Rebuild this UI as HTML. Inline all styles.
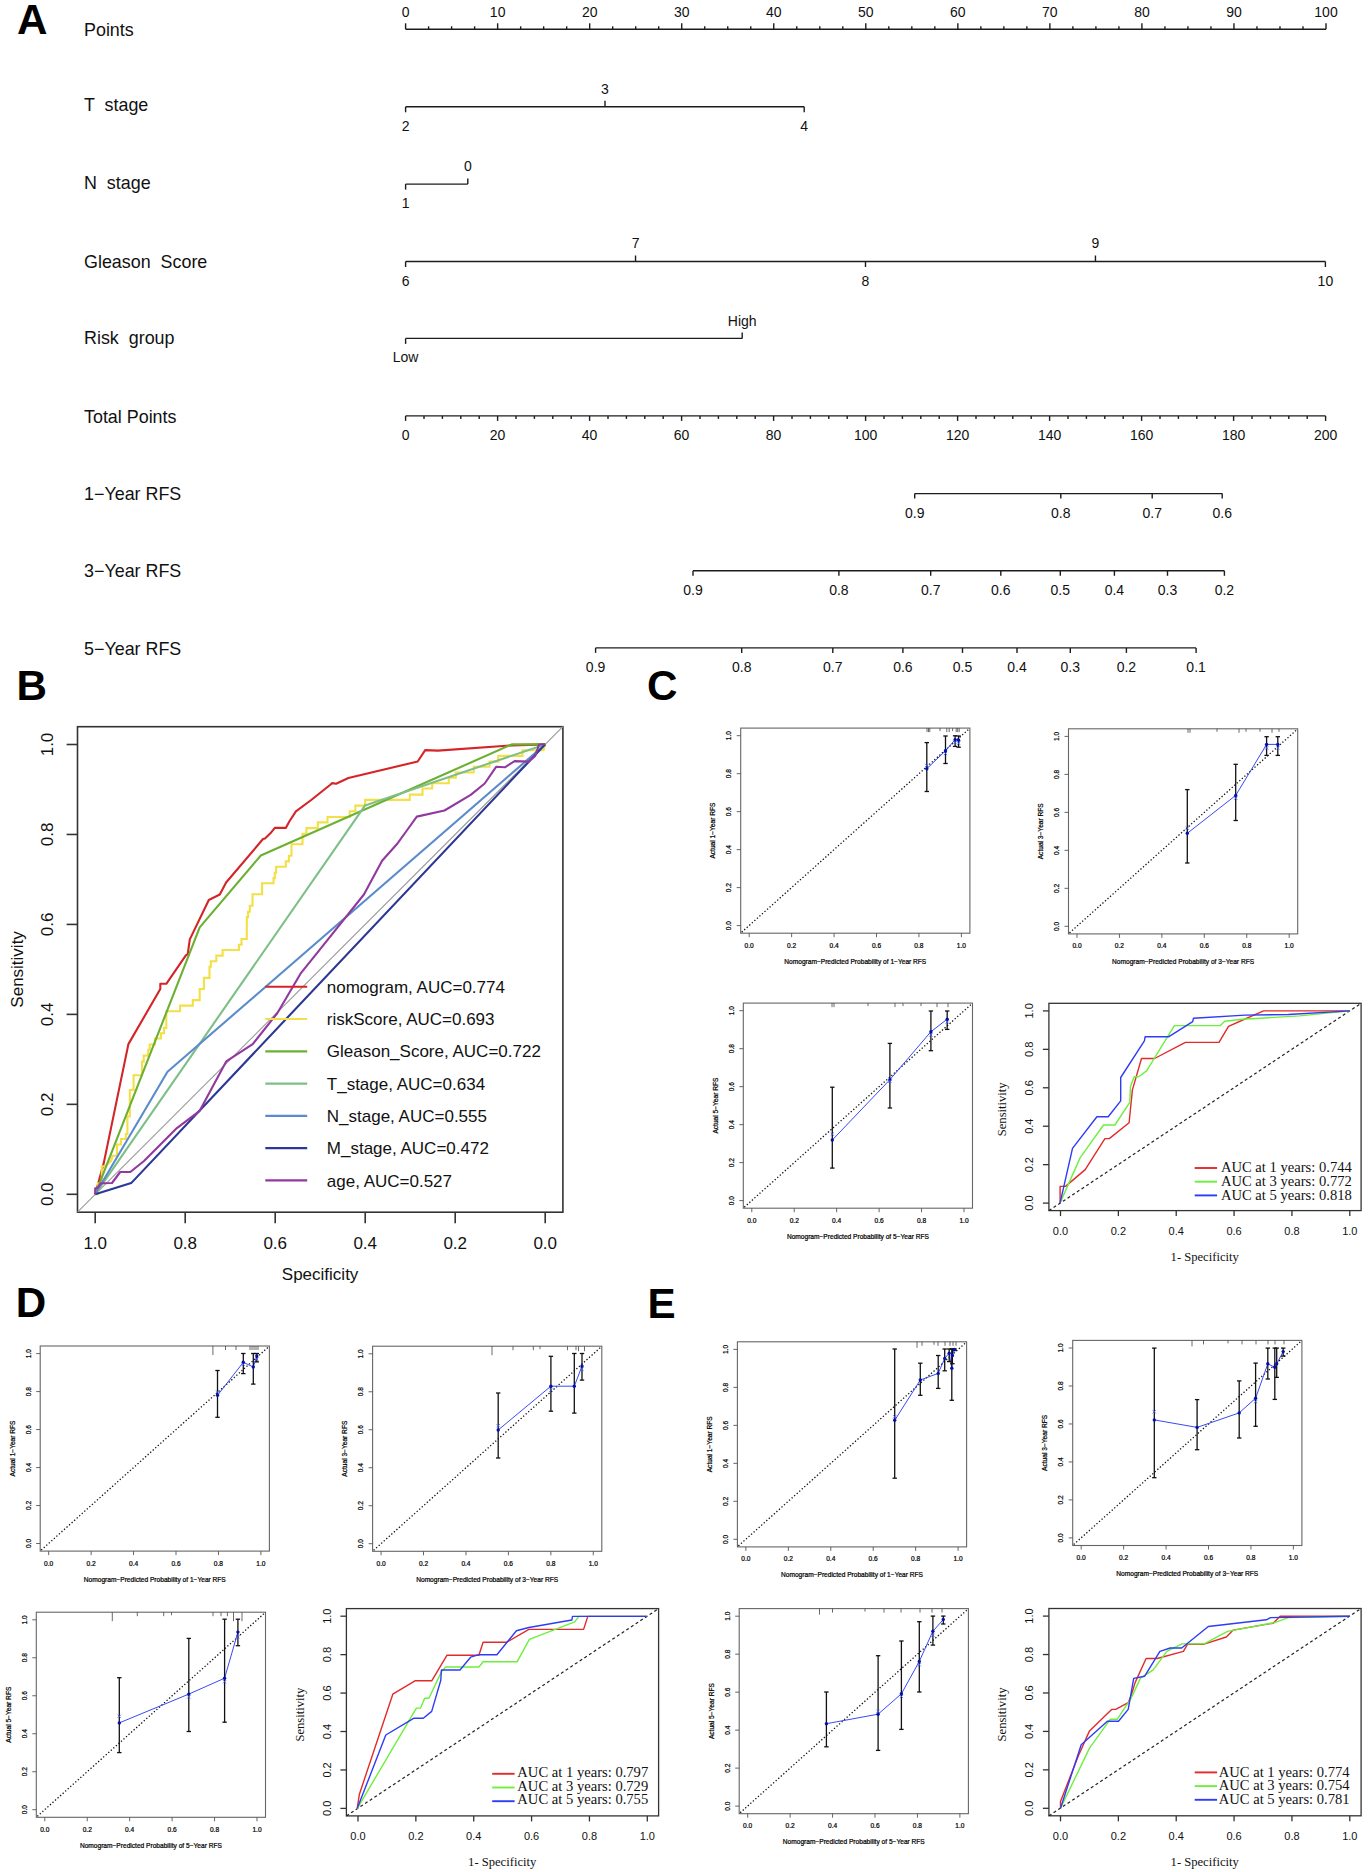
<!DOCTYPE html>
<html><head><meta charset="utf-8"><title>Figure</title>
<style>html,body{margin:0;padding:0;background:#fff;overflow:hidden}svg{display:block}</style></head>
<body><svg width="1368" height="1872" viewBox="0 0 1368 1872">
<rect x="0" y="0" width="1368" height="1872" fill="#fff"/>
<text x="17.00" y="34.40" font-family='"Liberation Sans", sans-serif' font-size="42.2" text-anchor="start" font-weight="bold" fill="#000" >A</text>
<text x="16.50" y="699.80" font-family='"Liberation Sans", sans-serif' font-size="42.2" text-anchor="start" font-weight="bold" fill="#000" >B</text>
<text x="647.00" y="700.30" font-family='"Liberation Sans", sans-serif' font-size="42.2" text-anchor="start" font-weight="bold" fill="#000" >C</text>
<text x="15.80" y="1317.40" font-family='"Liberation Sans", sans-serif' font-size="42.2" text-anchor="start" font-weight="bold" fill="#000" >D</text>
<text x="647.50" y="1318.20" font-family='"Liberation Sans", sans-serif' font-size="42.2" text-anchor="start" font-weight="bold" fill="#000" >E</text>
<text x="84.00" y="35.80" font-family='"Liberation Sans", sans-serif' font-size="17.9" text-anchor="start" font-weight="normal" fill="#111" style="white-space:pre">Points</text>
<text x="84.00" y="111.10" font-family='"Liberation Sans", sans-serif' font-size="17.9" text-anchor="start" font-weight="normal" fill="#111" style="white-space:pre">T  stage</text>
<text x="84.00" y="188.70" font-family='"Liberation Sans", sans-serif' font-size="17.9" text-anchor="start" font-weight="normal" fill="#111" style="white-space:pre">N  stage</text>
<text x="84.00" y="267.50" font-family='"Liberation Sans", sans-serif' font-size="17.9" text-anchor="start" font-weight="normal" fill="#111" style="white-space:pre">Gleason  Score</text>
<text x="84.00" y="343.60" font-family='"Liberation Sans", sans-serif' font-size="17.9" text-anchor="start" font-weight="normal" fill="#111" style="white-space:pre">Risk  group</text>
<text x="84.00" y="422.60" font-family='"Liberation Sans", sans-serif' font-size="17.9" text-anchor="start" font-weight="normal" fill="#111" style="white-space:pre">Total Points</text>
<text x="84.00" y="499.80" font-family='"Liberation Sans", sans-serif' font-size="17.9" text-anchor="start" font-weight="normal" fill="#111" style="white-space:pre">1−Year RFS</text>
<text x="84.00" y="577.30" font-family='"Liberation Sans", sans-serif' font-size="17.9" text-anchor="start" font-weight="normal" fill="#111" style="white-space:pre">3−Year RFS</text>
<text x="84.00" y="654.70" font-family='"Liberation Sans", sans-serif' font-size="17.9" text-anchor="start" font-weight="normal" fill="#111" style="white-space:pre">5−Year RFS</text>
<line x1="405.60" y1="29.30" x2="1326.00" y2="29.30" stroke="#1c1c1c" stroke-width="1.4" />
<line x1="405.60" y1="29.30" x2="405.60" y2="23.30" stroke="#1c1c1c" stroke-width="1.4" />
<text x="405.60" y="16.90" font-family='"Liberation Sans", sans-serif' font-size="14" text-anchor="middle" font-weight="normal" fill="#111" >0</text>
<line x1="428.61" y1="29.30" x2="428.61" y2="26.30" stroke="#1c1c1c" stroke-width="1.4" />
<line x1="451.62" y1="29.30" x2="451.62" y2="26.30" stroke="#1c1c1c" stroke-width="1.4" />
<line x1="474.63" y1="29.30" x2="474.63" y2="26.30" stroke="#1c1c1c" stroke-width="1.4" />
<line x1="497.64" y1="29.30" x2="497.64" y2="23.30" stroke="#1c1c1c" stroke-width="1.4" />
<text x="497.64" y="16.90" font-family='"Liberation Sans", sans-serif' font-size="14" text-anchor="middle" font-weight="normal" fill="#111" >10</text>
<line x1="520.65" y1="29.30" x2="520.65" y2="26.30" stroke="#1c1c1c" stroke-width="1.4" />
<line x1="543.66" y1="29.30" x2="543.66" y2="26.30" stroke="#1c1c1c" stroke-width="1.4" />
<line x1="566.67" y1="29.30" x2="566.67" y2="26.30" stroke="#1c1c1c" stroke-width="1.4" />
<line x1="589.68" y1="29.30" x2="589.68" y2="23.30" stroke="#1c1c1c" stroke-width="1.4" />
<text x="589.68" y="16.90" font-family='"Liberation Sans", sans-serif' font-size="14" text-anchor="middle" font-weight="normal" fill="#111" >20</text>
<line x1="612.69" y1="29.30" x2="612.69" y2="26.30" stroke="#1c1c1c" stroke-width="1.4" />
<line x1="635.70" y1="29.30" x2="635.70" y2="26.30" stroke="#1c1c1c" stroke-width="1.4" />
<line x1="658.71" y1="29.30" x2="658.71" y2="26.30" stroke="#1c1c1c" stroke-width="1.4" />
<line x1="681.72" y1="29.30" x2="681.72" y2="23.30" stroke="#1c1c1c" stroke-width="1.4" />
<text x="681.72" y="16.90" font-family='"Liberation Sans", sans-serif' font-size="14" text-anchor="middle" font-weight="normal" fill="#111" >30</text>
<line x1="704.73" y1="29.30" x2="704.73" y2="26.30" stroke="#1c1c1c" stroke-width="1.4" />
<line x1="727.74" y1="29.30" x2="727.74" y2="26.30" stroke="#1c1c1c" stroke-width="1.4" />
<line x1="750.75" y1="29.30" x2="750.75" y2="26.30" stroke="#1c1c1c" stroke-width="1.4" />
<line x1="773.76" y1="29.30" x2="773.76" y2="23.30" stroke="#1c1c1c" stroke-width="1.4" />
<text x="773.76" y="16.90" font-family='"Liberation Sans", sans-serif' font-size="14" text-anchor="middle" font-weight="normal" fill="#111" >40</text>
<line x1="796.77" y1="29.30" x2="796.77" y2="26.30" stroke="#1c1c1c" stroke-width="1.4" />
<line x1="819.78" y1="29.30" x2="819.78" y2="26.30" stroke="#1c1c1c" stroke-width="1.4" />
<line x1="842.79" y1="29.30" x2="842.79" y2="26.30" stroke="#1c1c1c" stroke-width="1.4" />
<line x1="865.80" y1="29.30" x2="865.80" y2="23.30" stroke="#1c1c1c" stroke-width="1.4" />
<text x="865.80" y="16.90" font-family='"Liberation Sans", sans-serif' font-size="14" text-anchor="middle" font-weight="normal" fill="#111" >50</text>
<line x1="888.81" y1="29.30" x2="888.81" y2="26.30" stroke="#1c1c1c" stroke-width="1.4" />
<line x1="911.82" y1="29.30" x2="911.82" y2="26.30" stroke="#1c1c1c" stroke-width="1.4" />
<line x1="934.83" y1="29.30" x2="934.83" y2="26.30" stroke="#1c1c1c" stroke-width="1.4" />
<line x1="957.84" y1="29.30" x2="957.84" y2="23.30" stroke="#1c1c1c" stroke-width="1.4" />
<text x="957.84" y="16.90" font-family='"Liberation Sans", sans-serif' font-size="14" text-anchor="middle" font-weight="normal" fill="#111" >60</text>
<line x1="980.85" y1="29.30" x2="980.85" y2="26.30" stroke="#1c1c1c" stroke-width="1.4" />
<line x1="1003.86" y1="29.30" x2="1003.86" y2="26.30" stroke="#1c1c1c" stroke-width="1.4" />
<line x1="1026.87" y1="29.30" x2="1026.87" y2="26.30" stroke="#1c1c1c" stroke-width="1.4" />
<line x1="1049.88" y1="29.30" x2="1049.88" y2="23.30" stroke="#1c1c1c" stroke-width="1.4" />
<text x="1049.88" y="16.90" font-family='"Liberation Sans", sans-serif' font-size="14" text-anchor="middle" font-weight="normal" fill="#111" >70</text>
<line x1="1072.89" y1="29.30" x2="1072.89" y2="26.30" stroke="#1c1c1c" stroke-width="1.4" />
<line x1="1095.90" y1="29.30" x2="1095.90" y2="26.30" stroke="#1c1c1c" stroke-width="1.4" />
<line x1="1118.91" y1="29.30" x2="1118.91" y2="26.30" stroke="#1c1c1c" stroke-width="1.4" />
<line x1="1141.92" y1="29.30" x2="1141.92" y2="23.30" stroke="#1c1c1c" stroke-width="1.4" />
<text x="1141.92" y="16.90" font-family='"Liberation Sans", sans-serif' font-size="14" text-anchor="middle" font-weight="normal" fill="#111" >80</text>
<line x1="1164.93" y1="29.30" x2="1164.93" y2="26.30" stroke="#1c1c1c" stroke-width="1.4" />
<line x1="1187.94" y1="29.30" x2="1187.94" y2="26.30" stroke="#1c1c1c" stroke-width="1.4" />
<line x1="1210.95" y1="29.30" x2="1210.95" y2="26.30" stroke="#1c1c1c" stroke-width="1.4" />
<line x1="1233.96" y1="29.30" x2="1233.96" y2="23.30" stroke="#1c1c1c" stroke-width="1.4" />
<text x="1233.96" y="16.90" font-family='"Liberation Sans", sans-serif' font-size="14" text-anchor="middle" font-weight="normal" fill="#111" >90</text>
<line x1="1256.97" y1="29.30" x2="1256.97" y2="26.30" stroke="#1c1c1c" stroke-width="1.4" />
<line x1="1279.98" y1="29.30" x2="1279.98" y2="26.30" stroke="#1c1c1c" stroke-width="1.4" />
<line x1="1302.99" y1="29.30" x2="1302.99" y2="26.30" stroke="#1c1c1c" stroke-width="1.4" />
<line x1="1326.00" y1="29.30" x2="1326.00" y2="23.30" stroke="#1c1c1c" stroke-width="1.4" />
<text x="1326.00" y="16.90" font-family='"Liberation Sans", sans-serif' font-size="14" text-anchor="middle" font-weight="normal" fill="#111" >100</text>
<line x1="405.60" y1="106.80" x2="804.20" y2="106.80" stroke="#1c1c1c" stroke-width="1.4" />
<line x1="405.60" y1="106.80" x2="405.60" y2="112.30" stroke="#1c1c1c" stroke-width="1.4" />
<text x="405.60" y="130.80" font-family='"Liberation Sans", sans-serif' font-size="14" text-anchor="middle" font-weight="normal" fill="#111" >2</text>
<line x1="605.00" y1="106.80" x2="605.00" y2="100.80" stroke="#1c1c1c" stroke-width="1.4" />
<text x="605.00" y="93.70" font-family='"Liberation Sans", sans-serif' font-size="14" text-anchor="middle" font-weight="normal" fill="#111" >3</text>
<line x1="804.20" y1="106.80" x2="804.20" y2="112.30" stroke="#1c1c1c" stroke-width="1.4" />
<text x="804.20" y="130.80" font-family='"Liberation Sans", sans-serif' font-size="14" text-anchor="middle" font-weight="normal" fill="#111" >4</text>
<line x1="405.60" y1="184.10" x2="467.80" y2="184.10" stroke="#1c1c1c" stroke-width="1.4" />
<line x1="405.60" y1="184.10" x2="405.60" y2="189.60" stroke="#1c1c1c" stroke-width="1.4" />
<text x="405.60" y="207.70" font-family='"Liberation Sans", sans-serif' font-size="14" text-anchor="middle" font-weight="normal" fill="#111" >1</text>
<line x1="467.80" y1="184.10" x2="467.80" y2="178.60" stroke="#1c1c1c" stroke-width="1.4" />
<text x="467.80" y="171.20" font-family='"Liberation Sans", sans-serif' font-size="14" text-anchor="middle" font-weight="normal" fill="#111" >0</text>
<line x1="405.60" y1="261.50" x2="1325.40" y2="261.50" stroke="#1c1c1c" stroke-width="1.4" />
<line x1="405.60" y1="261.50" x2="405.60" y2="267.00" stroke="#1c1c1c" stroke-width="1.4" />
<text x="405.60" y="285.60" font-family='"Liberation Sans", sans-serif' font-size="14" text-anchor="middle" font-weight="normal" fill="#111" >6</text>
<line x1="635.55" y1="261.50" x2="635.55" y2="255.50" stroke="#1c1c1c" stroke-width="1.4" />
<text x="635.55" y="248.30" font-family='"Liberation Sans", sans-serif' font-size="14" text-anchor="middle" font-weight="normal" fill="#111" >7</text>
<line x1="865.50" y1="261.50" x2="865.50" y2="267.00" stroke="#1c1c1c" stroke-width="1.4" />
<text x="865.50" y="285.60" font-family='"Liberation Sans", sans-serif' font-size="14" text-anchor="middle" font-weight="normal" fill="#111" >8</text>
<line x1="1095.45" y1="261.50" x2="1095.45" y2="255.50" stroke="#1c1c1c" stroke-width="1.4" />
<text x="1095.45" y="248.30" font-family='"Liberation Sans", sans-serif' font-size="14" text-anchor="middle" font-weight="normal" fill="#111" >9</text>
<line x1="1325.40" y1="261.50" x2="1325.40" y2="267.00" stroke="#1c1c1c" stroke-width="1.4" />
<text x="1325.40" y="285.60" font-family='"Liberation Sans", sans-serif' font-size="14" text-anchor="middle" font-weight="normal" fill="#111" >10</text>
<line x1="405.60" y1="338.40" x2="742.20" y2="338.40" stroke="#1c1c1c" stroke-width="1.4" />
<line x1="405.60" y1="338.40" x2="405.60" y2="343.90" stroke="#1c1c1c" stroke-width="1.4" />
<text x="405.60" y="362.30" font-family='"Liberation Sans", sans-serif' font-size="14" text-anchor="middle" font-weight="normal" fill="#111" >Low</text>
<line x1="742.20" y1="338.40" x2="742.20" y2="332.40" stroke="#1c1c1c" stroke-width="1.4" />
<text x="742.20" y="325.50" font-family='"Liberation Sans", sans-serif' font-size="14" text-anchor="middle" font-weight="normal" fill="#111" >High</text>
<line x1="405.60" y1="415.90" x2="1325.60" y2="415.90" stroke="#1c1c1c" stroke-width="1.4" />
<line x1="405.60" y1="415.90" x2="405.60" y2="420.90" stroke="#1c1c1c" stroke-width="1.4" />
<text x="405.60" y="440.40" font-family='"Liberation Sans", sans-serif' font-size="14" text-anchor="middle" font-weight="normal" fill="#111" >0</text>
<line x1="424.00" y1="415.90" x2="424.00" y2="418.90" stroke="#1c1c1c" stroke-width="1.4" />
<line x1="442.40" y1="415.90" x2="442.40" y2="418.90" stroke="#1c1c1c" stroke-width="1.4" />
<line x1="460.80" y1="415.90" x2="460.80" y2="418.90" stroke="#1c1c1c" stroke-width="1.4" />
<line x1="479.20" y1="415.90" x2="479.20" y2="418.90" stroke="#1c1c1c" stroke-width="1.4" />
<line x1="497.60" y1="415.90" x2="497.60" y2="420.90" stroke="#1c1c1c" stroke-width="1.4" />
<text x="497.60" y="440.40" font-family='"Liberation Sans", sans-serif' font-size="14" text-anchor="middle" font-weight="normal" fill="#111" >20</text>
<line x1="516.00" y1="415.90" x2="516.00" y2="418.90" stroke="#1c1c1c" stroke-width="1.4" />
<line x1="534.40" y1="415.90" x2="534.40" y2="418.90" stroke="#1c1c1c" stroke-width="1.4" />
<line x1="552.80" y1="415.90" x2="552.80" y2="418.90" stroke="#1c1c1c" stroke-width="1.4" />
<line x1="571.20" y1="415.90" x2="571.20" y2="418.90" stroke="#1c1c1c" stroke-width="1.4" />
<line x1="589.60" y1="415.90" x2="589.60" y2="420.90" stroke="#1c1c1c" stroke-width="1.4" />
<text x="589.60" y="440.40" font-family='"Liberation Sans", sans-serif' font-size="14" text-anchor="middle" font-weight="normal" fill="#111" >40</text>
<line x1="608.00" y1="415.90" x2="608.00" y2="418.90" stroke="#1c1c1c" stroke-width="1.4" />
<line x1="626.40" y1="415.90" x2="626.40" y2="418.90" stroke="#1c1c1c" stroke-width="1.4" />
<line x1="644.80" y1="415.90" x2="644.80" y2="418.90" stroke="#1c1c1c" stroke-width="1.4" />
<line x1="663.20" y1="415.90" x2="663.20" y2="418.90" stroke="#1c1c1c" stroke-width="1.4" />
<line x1="681.60" y1="415.90" x2="681.60" y2="420.90" stroke="#1c1c1c" stroke-width="1.4" />
<text x="681.60" y="440.40" font-family='"Liberation Sans", sans-serif' font-size="14" text-anchor="middle" font-weight="normal" fill="#111" >60</text>
<line x1="700.00" y1="415.90" x2="700.00" y2="418.90" stroke="#1c1c1c" stroke-width="1.4" />
<line x1="718.40" y1="415.90" x2="718.40" y2="418.90" stroke="#1c1c1c" stroke-width="1.4" />
<line x1="736.80" y1="415.90" x2="736.80" y2="418.90" stroke="#1c1c1c" stroke-width="1.4" />
<line x1="755.20" y1="415.90" x2="755.20" y2="418.90" stroke="#1c1c1c" stroke-width="1.4" />
<line x1="773.60" y1="415.90" x2="773.60" y2="420.90" stroke="#1c1c1c" stroke-width="1.4" />
<text x="773.60" y="440.40" font-family='"Liberation Sans", sans-serif' font-size="14" text-anchor="middle" font-weight="normal" fill="#111" >80</text>
<line x1="792.00" y1="415.90" x2="792.00" y2="418.90" stroke="#1c1c1c" stroke-width="1.4" />
<line x1="810.40" y1="415.90" x2="810.40" y2="418.90" stroke="#1c1c1c" stroke-width="1.4" />
<line x1="828.80" y1="415.90" x2="828.80" y2="418.90" stroke="#1c1c1c" stroke-width="1.4" />
<line x1="847.20" y1="415.90" x2="847.20" y2="418.90" stroke="#1c1c1c" stroke-width="1.4" />
<line x1="865.60" y1="415.90" x2="865.60" y2="420.90" stroke="#1c1c1c" stroke-width="1.4" />
<text x="865.60" y="440.40" font-family='"Liberation Sans", sans-serif' font-size="14" text-anchor="middle" font-weight="normal" fill="#111" >100</text>
<line x1="884.00" y1="415.90" x2="884.00" y2="418.90" stroke="#1c1c1c" stroke-width="1.4" />
<line x1="902.40" y1="415.90" x2="902.40" y2="418.90" stroke="#1c1c1c" stroke-width="1.4" />
<line x1="920.80" y1="415.90" x2="920.80" y2="418.90" stroke="#1c1c1c" stroke-width="1.4" />
<line x1="939.20" y1="415.90" x2="939.20" y2="418.90" stroke="#1c1c1c" stroke-width="1.4" />
<line x1="957.60" y1="415.90" x2="957.60" y2="420.90" stroke="#1c1c1c" stroke-width="1.4" />
<text x="957.60" y="440.40" font-family='"Liberation Sans", sans-serif' font-size="14" text-anchor="middle" font-weight="normal" fill="#111" >120</text>
<line x1="976.00" y1="415.90" x2="976.00" y2="418.90" stroke="#1c1c1c" stroke-width="1.4" />
<line x1="994.40" y1="415.90" x2="994.40" y2="418.90" stroke="#1c1c1c" stroke-width="1.4" />
<line x1="1012.80" y1="415.90" x2="1012.80" y2="418.90" stroke="#1c1c1c" stroke-width="1.4" />
<line x1="1031.20" y1="415.90" x2="1031.20" y2="418.90" stroke="#1c1c1c" stroke-width="1.4" />
<line x1="1049.60" y1="415.90" x2="1049.60" y2="420.90" stroke="#1c1c1c" stroke-width="1.4" />
<text x="1049.60" y="440.40" font-family='"Liberation Sans", sans-serif' font-size="14" text-anchor="middle" font-weight="normal" fill="#111" >140</text>
<line x1="1068.00" y1="415.90" x2="1068.00" y2="418.90" stroke="#1c1c1c" stroke-width="1.4" />
<line x1="1086.40" y1="415.90" x2="1086.40" y2="418.90" stroke="#1c1c1c" stroke-width="1.4" />
<line x1="1104.80" y1="415.90" x2="1104.80" y2="418.90" stroke="#1c1c1c" stroke-width="1.4" />
<line x1="1123.20" y1="415.90" x2="1123.20" y2="418.90" stroke="#1c1c1c" stroke-width="1.4" />
<line x1="1141.60" y1="415.90" x2="1141.60" y2="420.90" stroke="#1c1c1c" stroke-width="1.4" />
<text x="1141.60" y="440.40" font-family='"Liberation Sans", sans-serif' font-size="14" text-anchor="middle" font-weight="normal" fill="#111" >160</text>
<line x1="1160.00" y1="415.90" x2="1160.00" y2="418.90" stroke="#1c1c1c" stroke-width="1.4" />
<line x1="1178.40" y1="415.90" x2="1178.40" y2="418.90" stroke="#1c1c1c" stroke-width="1.4" />
<line x1="1196.80" y1="415.90" x2="1196.80" y2="418.90" stroke="#1c1c1c" stroke-width="1.4" />
<line x1="1215.20" y1="415.90" x2="1215.20" y2="418.90" stroke="#1c1c1c" stroke-width="1.4" />
<line x1="1233.60" y1="415.90" x2="1233.60" y2="420.90" stroke="#1c1c1c" stroke-width="1.4" />
<text x="1233.60" y="440.40" font-family='"Liberation Sans", sans-serif' font-size="14" text-anchor="middle" font-weight="normal" fill="#111" >180</text>
<line x1="1252.00" y1="415.90" x2="1252.00" y2="418.90" stroke="#1c1c1c" stroke-width="1.4" />
<line x1="1270.40" y1="415.90" x2="1270.40" y2="418.90" stroke="#1c1c1c" stroke-width="1.4" />
<line x1="1288.80" y1="415.90" x2="1288.80" y2="418.90" stroke="#1c1c1c" stroke-width="1.4" />
<line x1="1307.20" y1="415.90" x2="1307.20" y2="418.90" stroke="#1c1c1c" stroke-width="1.4" />
<line x1="1325.60" y1="415.90" x2="1325.60" y2="420.90" stroke="#1c1c1c" stroke-width="1.4" />
<text x="1325.60" y="440.40" font-family='"Liberation Sans", sans-serif' font-size="14" text-anchor="middle" font-weight="normal" fill="#111" >200</text>
<line x1="914.70" y1="493.60" x2="1222.20" y2="493.60" stroke="#1c1c1c" stroke-width="1.4" />
<line x1="914.70" y1="493.60" x2="914.70" y2="498.60" stroke="#1c1c1c" stroke-width="1.4" />
<text x="914.70" y="517.80" font-family='"Liberation Sans", sans-serif' font-size="14" text-anchor="middle" font-weight="normal" fill="#111" >0.9</text>
<line x1="1060.80" y1="493.60" x2="1060.80" y2="498.60" stroke="#1c1c1c" stroke-width="1.4" />
<text x="1060.80" y="517.80" font-family='"Liberation Sans", sans-serif' font-size="14" text-anchor="middle" font-weight="normal" fill="#111" >0.8</text>
<line x1="1152.20" y1="493.60" x2="1152.20" y2="498.60" stroke="#1c1c1c" stroke-width="1.4" />
<text x="1152.20" y="517.80" font-family='"Liberation Sans", sans-serif' font-size="14" text-anchor="middle" font-weight="normal" fill="#111" >0.7</text>
<line x1="1222.20" y1="493.60" x2="1222.20" y2="498.60" stroke="#1c1c1c" stroke-width="1.4" />
<text x="1222.20" y="517.80" font-family='"Liberation Sans", sans-serif' font-size="14" text-anchor="middle" font-weight="normal" fill="#111" >0.6</text>
<line x1="693.00" y1="570.80" x2="1224.40" y2="570.80" stroke="#1c1c1c" stroke-width="1.4" />
<line x1="693.00" y1="570.80" x2="693.00" y2="575.80" stroke="#1c1c1c" stroke-width="1.4" />
<text x="693.00" y="595.00" font-family='"Liberation Sans", sans-serif' font-size="14" text-anchor="middle" font-weight="normal" fill="#111" >0.9</text>
<line x1="838.90" y1="570.80" x2="838.90" y2="575.80" stroke="#1c1c1c" stroke-width="1.4" />
<text x="838.90" y="595.00" font-family='"Liberation Sans", sans-serif' font-size="14" text-anchor="middle" font-weight="normal" fill="#111" >0.8</text>
<line x1="930.70" y1="570.80" x2="930.70" y2="575.80" stroke="#1c1c1c" stroke-width="1.4" />
<text x="930.70" y="595.00" font-family='"Liberation Sans", sans-serif' font-size="14" text-anchor="middle" font-weight="normal" fill="#111" >0.7</text>
<line x1="1000.80" y1="570.80" x2="1000.80" y2="575.80" stroke="#1c1c1c" stroke-width="1.4" />
<text x="1000.80" y="595.00" font-family='"Liberation Sans", sans-serif' font-size="14" text-anchor="middle" font-weight="normal" fill="#111" >0.6</text>
<line x1="1060.30" y1="570.80" x2="1060.30" y2="575.80" stroke="#1c1c1c" stroke-width="1.4" />
<text x="1060.30" y="595.00" font-family='"Liberation Sans", sans-serif' font-size="14" text-anchor="middle" font-weight="normal" fill="#111" >0.5</text>
<line x1="1114.40" y1="570.80" x2="1114.40" y2="575.80" stroke="#1c1c1c" stroke-width="1.4" />
<text x="1114.40" y="595.00" font-family='"Liberation Sans", sans-serif' font-size="14" text-anchor="middle" font-weight="normal" fill="#111" >0.4</text>
<line x1="1167.50" y1="570.80" x2="1167.50" y2="575.80" stroke="#1c1c1c" stroke-width="1.4" />
<text x="1167.50" y="595.00" font-family='"Liberation Sans", sans-serif' font-size="14" text-anchor="middle" font-weight="normal" fill="#111" >0.3</text>
<line x1="1224.40" y1="570.80" x2="1224.40" y2="575.80" stroke="#1c1c1c" stroke-width="1.4" />
<text x="1224.40" y="595.00" font-family='"Liberation Sans", sans-serif' font-size="14" text-anchor="middle" font-weight="normal" fill="#111" >0.2</text>
<line x1="595.60" y1="647.90" x2="1196.10" y2="647.90" stroke="#1c1c1c" stroke-width="1.4" />
<line x1="595.60" y1="647.90" x2="595.60" y2="652.90" stroke="#1c1c1c" stroke-width="1.4" />
<text x="595.60" y="672.20" font-family='"Liberation Sans", sans-serif' font-size="14" text-anchor="middle" font-weight="normal" fill="#111" >0.9</text>
<line x1="741.70" y1="647.90" x2="741.70" y2="652.90" stroke="#1c1c1c" stroke-width="1.4" />
<text x="741.70" y="672.20" font-family='"Liberation Sans", sans-serif' font-size="14" text-anchor="middle" font-weight="normal" fill="#111" >0.8</text>
<line x1="832.80" y1="647.90" x2="832.80" y2="652.90" stroke="#1c1c1c" stroke-width="1.4" />
<text x="832.80" y="672.20" font-family='"Liberation Sans", sans-serif' font-size="14" text-anchor="middle" font-weight="normal" fill="#111" >0.7</text>
<line x1="902.90" y1="647.90" x2="902.90" y2="652.90" stroke="#1c1c1c" stroke-width="1.4" />
<text x="902.90" y="672.20" font-family='"Liberation Sans", sans-serif' font-size="14" text-anchor="middle" font-weight="normal" fill="#111" >0.6</text>
<line x1="962.50" y1="647.90" x2="962.50" y2="652.90" stroke="#1c1c1c" stroke-width="1.4" />
<text x="962.50" y="672.20" font-family='"Liberation Sans", sans-serif' font-size="14" text-anchor="middle" font-weight="normal" fill="#111" >0.5</text>
<line x1="1017.00" y1="647.90" x2="1017.00" y2="652.90" stroke="#1c1c1c" stroke-width="1.4" />
<text x="1017.00" y="672.20" font-family='"Liberation Sans", sans-serif' font-size="14" text-anchor="middle" font-weight="normal" fill="#111" >0.4</text>
<line x1="1070.30" y1="647.90" x2="1070.30" y2="652.90" stroke="#1c1c1c" stroke-width="1.4" />
<text x="1070.30" y="672.20" font-family='"Liberation Sans", sans-serif' font-size="14" text-anchor="middle" font-weight="normal" fill="#111" >0.3</text>
<line x1="1126.40" y1="647.90" x2="1126.40" y2="652.90" stroke="#1c1c1c" stroke-width="1.4" />
<text x="1126.40" y="672.20" font-family='"Liberation Sans", sans-serif' font-size="14" text-anchor="middle" font-weight="normal" fill="#111" >0.2</text>
<line x1="1196.10" y1="647.90" x2="1196.10" y2="652.90" stroke="#1c1c1c" stroke-width="1.4" />
<text x="1196.10" y="672.20" font-family='"Liberation Sans", sans-serif' font-size="14" text-anchor="middle" font-weight="normal" fill="#111" >0.1</text>
<rect x="77.5" y="726.7" width="485.40" height="485.50" fill="none" stroke="#333" stroke-width="1.6"/>
<line x1="66.60" y1="744.50" x2="77.50" y2="744.50" stroke="#333" stroke-width="1.6" />
<text transform="translate(52.70,744.50) rotate(-90)" font-family='"Liberation Sans", sans-serif' font-size="17" text-anchor="middle" font-weight="normal" fill="#111" >1.0</text>
<line x1="66.60" y1="834.46" x2="77.50" y2="834.46" stroke="#333" stroke-width="1.6" />
<text transform="translate(52.70,834.46) rotate(-90)" font-family='"Liberation Sans", sans-serif' font-size="17" text-anchor="middle" font-weight="normal" fill="#111" >0.8</text>
<line x1="66.60" y1="924.42" x2="77.50" y2="924.42" stroke="#333" stroke-width="1.6" />
<text transform="translate(52.70,924.42) rotate(-90)" font-family='"Liberation Sans", sans-serif' font-size="17" text-anchor="middle" font-weight="normal" fill="#111" >0.6</text>
<line x1="66.60" y1="1014.38" x2="77.50" y2="1014.38" stroke="#333" stroke-width="1.6" />
<text transform="translate(52.70,1014.38) rotate(-90)" font-family='"Liberation Sans", sans-serif' font-size="17" text-anchor="middle" font-weight="normal" fill="#111" >0.4</text>
<line x1="66.60" y1="1104.34" x2="77.50" y2="1104.34" stroke="#333" stroke-width="1.6" />
<text transform="translate(52.70,1104.34) rotate(-90)" font-family='"Liberation Sans", sans-serif' font-size="17" text-anchor="middle" font-weight="normal" fill="#111" >0.2</text>
<line x1="66.60" y1="1194.30" x2="77.50" y2="1194.30" stroke="#333" stroke-width="1.6" />
<text transform="translate(52.70,1194.30) rotate(-90)" font-family='"Liberation Sans", sans-serif' font-size="17" text-anchor="middle" font-weight="normal" fill="#111" >0.0</text>
<line x1="95.20" y1="1212.20" x2="95.20" y2="1223.20" stroke="#333" stroke-width="1.6" />
<text x="95.20" y="1249.10" font-family='"Liberation Sans", sans-serif' font-size="17" text-anchor="middle" font-weight="normal" fill="#111" >1.0</text>
<line x1="185.20" y1="1212.20" x2="185.20" y2="1223.20" stroke="#333" stroke-width="1.6" />
<text x="185.20" y="1249.10" font-family='"Liberation Sans", sans-serif' font-size="17" text-anchor="middle" font-weight="normal" fill="#111" >0.8</text>
<line x1="275.20" y1="1212.20" x2="275.20" y2="1223.20" stroke="#333" stroke-width="1.6" />
<text x="275.20" y="1249.10" font-family='"Liberation Sans", sans-serif' font-size="17" text-anchor="middle" font-weight="normal" fill="#111" >0.6</text>
<line x1="365.20" y1="1212.20" x2="365.20" y2="1223.20" stroke="#333" stroke-width="1.6" />
<text x="365.20" y="1249.10" font-family='"Liberation Sans", sans-serif' font-size="17" text-anchor="middle" font-weight="normal" fill="#111" >0.4</text>
<line x1="455.20" y1="1212.20" x2="455.20" y2="1223.20" stroke="#333" stroke-width="1.6" />
<text x="455.20" y="1249.10" font-family='"Liberation Sans", sans-serif' font-size="17" text-anchor="middle" font-weight="normal" fill="#111" >0.2</text>
<line x1="545.20" y1="1212.20" x2="545.20" y2="1223.20" stroke="#333" stroke-width="1.6" />
<text x="545.20" y="1249.10" font-family='"Liberation Sans", sans-serif' font-size="17" text-anchor="middle" font-weight="normal" fill="#111" >0.0</text>
<text x="320.10" y="1279.80" font-family='"Liberation Sans", sans-serif' font-size="17" text-anchor="middle" font-weight="normal" fill="#111" >Specificity</text>
<text transform="translate(22.60,969.40) rotate(-90)" font-family='"Liberation Sans", sans-serif' font-size="17" text-anchor="middle" font-weight="normal" fill="#111" >Sensitivity</text>
<line x1="77.50" y1="1212.20" x2="562.90" y2="726.70" stroke="#9a9a9a" stroke-width="1.1" />
<polyline points="95.20,1194.30 103.80,1162.90 128.40,1044.10 160.30,989.00 160.30,983.80 166.30,983.80 186.00,955.20 187.70,954.40 189.80,939.40 208.80,900.00 219.80,894.50 226.10,882.50 263.00,839.00 265.00,838.50 270.40,833.30 274.80,827.90 285.80,827.90 289.30,821.50 295.90,811.40 311.20,800.00 330.00,785.00 332.20,783.10 336.10,783.70 348.40,778.00 417.70,761.50 425.20,750.10 437.90,750.60 511.90,745.40 545.20,744.40" fill="none" stroke="#D42428" stroke-width="2.1" stroke-linejoin="round" />
<polyline points="95.20,1194.30 97.90,1194.30 97.90,1183.30 101.80,1183.30 101.80,1166.20 105.10,1166.20 111.10,1160.90 112.70,1155.70 117.00,1155.70 117.00,1144.50 121.00,1144.50 121.00,1139.00 125.80,1139.00 125.80,1134.00 127.40,1134.00 127.40,1116.50 129.80,1116.50 129.80,1090.00 133.60,1090.00 133.60,1075.30 142.00,1075.30 142.00,1061.60 143.70,1061.60 143.70,1055.60 148.20,1055.60 148.20,1049.70 149.70,1049.70 149.70,1044.50 155.00,1044.50 155.00,1038.50 161.00,1038.50 161.00,1033.20 164.00,1033.20 164.00,1027.90 166.30,1027.90 166.30,1011.20 180.00,1011.20 180.00,1005.60 192.80,1005.60 192.80,1000.10 199.70,1000.10 199.70,989.00 203.90,989.00 203.90,977.90 209.50,977.90 209.50,966.80 210.80,966.80 210.80,961.20 216.30,961.20 216.30,955.60 222.60,955.60 222.60,950.00 238.90,950.00 238.90,944.70 241.50,944.70 241.50,939.00 246.80,939.00 246.80,917.10 248.10,917.10 248.10,911.80 249.80,911.80 249.80,905.70 252.50,905.70 252.50,894.30 262.10,894.30 262.10,883.30 273.50,883.30 273.50,878.10 274.80,878.10 274.80,872.80 276.10,872.80 276.10,866.70 285.80,866.70 285.80,861.40 288.90,861.40 288.90,855.70 291.50,855.70 291.50,844.30 302.50,844.30 302.50,833.80 306.40,833.80 306.40,828.10 317.80,828.10 317.80,822.40 327.50,822.40 327.50,817.00 349.70,817.00 349.70,811.30 355.40,811.30 355.40,805.60 365.10,805.60 365.10,799.90 409.80,799.90 409.80,794.60 422.50,794.60 422.50,788.50 432.20,788.50 432.20,783.20 448.80,783.20 448.80,777.80 455.80,777.80 455.80,772.50 473.80,772.50 473.80,766.80 489.60,766.80 489.60,761.60 498.30,761.60 498.30,755.90 522.50,755.90 522.50,750.20 543.50,750.20 545.20,744.40" fill="none" stroke="#F2E046" stroke-width="2.1" stroke-linejoin="miter" />
<polyline points="95.20,1194.30 199.70,927.40 260.80,855.50 512.20,744.20 545.20,744.40" fill="none" stroke="#6BB032" stroke-width="2.1" stroke-linejoin="round" />
<polyline points="95.20,1194.30 365.10,805.40 545.20,744.40" fill="none" stroke="#7DBF86" stroke-width="2.1" stroke-linejoin="round" />
<polyline points="95.20,1194.30 167.50,1071.80 545.20,744.40" fill="none" stroke="#5A8CCC" stroke-width="2.1" stroke-linejoin="round" />
<polyline points="95.20,1194.30 131.20,1183.10 545.20,744.40" fill="none" stroke="#2C3894" stroke-width="2.1" stroke-linejoin="round" />
<polyline points="95.20,1194.30 95.20,1188.30 97.00,1188.30 101.00,1183.30 112.00,1183.00 120.20,1172.00 130.30,1172.00 144.00,1161.00 176.90,1128.10 199.70,1110.80 226.20,1061.40 252.70,1044.10 277.40,1013.00 301.10,972.80 320.00,949.30 363.90,894.50 382.10,860.70 396.80,844.30 407.20,830.00 416.80,816.60 444.50,810.50 470.70,794.90 484.70,783.50 496.10,766.80 504.90,767.30 514.60,761.10 528.60,761.60 535.20,755.90 539.10,744.50 545.20,744.40" fill="none" stroke="#91399F" stroke-width="2.1" stroke-linejoin="round" />
<line x1="265.30" y1="986.80" x2="307.20" y2="986.80" stroke="#D42428" stroke-width="2.1" />
<text x="326.80" y="992.90" font-family='"Liberation Sans", sans-serif' font-size="17" text-anchor="start" font-weight="normal" fill="#111" >nomogram, AUC=0.774</text>
<line x1="265.30" y1="1019.07" x2="307.20" y2="1019.07" stroke="#F2E046" stroke-width="2.1" />
<text x="326.80" y="1025.17" font-family='"Liberation Sans", sans-serif' font-size="17" text-anchor="start" font-weight="normal" fill="#111" >riskScore, AUC=0.693</text>
<line x1="265.30" y1="1051.34" x2="307.20" y2="1051.34" stroke="#6BB032" stroke-width="2.1" />
<text x="326.80" y="1057.44" font-family='"Liberation Sans", sans-serif' font-size="17" text-anchor="start" font-weight="normal" fill="#111" >Gleason_Score, AUC=0.722</text>
<line x1="265.30" y1="1083.61" x2="307.20" y2="1083.61" stroke="#7DBF86" stroke-width="2.1" />
<text x="326.80" y="1089.71" font-family='"Liberation Sans", sans-serif' font-size="17" text-anchor="start" font-weight="normal" fill="#111" >T_stage, AUC=0.634</text>
<line x1="265.30" y1="1115.88" x2="307.20" y2="1115.88" stroke="#5A8CCC" stroke-width="2.1" />
<text x="326.80" y="1121.98" font-family='"Liberation Sans", sans-serif' font-size="17" text-anchor="start" font-weight="normal" fill="#111" >N_stage, AUC=0.555</text>
<line x1="265.30" y1="1148.15" x2="307.20" y2="1148.15" stroke="#2C3894" stroke-width="2.1" />
<text x="326.80" y="1154.25" font-family='"Liberation Sans", sans-serif' font-size="17" text-anchor="start" font-weight="normal" fill="#111" >M_stage, AUC=0.472</text>
<line x1="265.30" y1="1180.42" x2="307.20" y2="1180.42" stroke="#91399F" stroke-width="2.1" />
<text x="326.80" y="1186.52" font-family='"Liberation Sans", sans-serif' font-size="17" text-anchor="start" font-weight="normal" fill="#111" >age, AUC=0.527</text>
<rect x="740.70" y="728.10" width="229.2" height="205.1" fill="none" stroke="#666" stroke-width="1.1"/>
<line x1="749.19" y1="933.20" x2="749.19" y2="937.20" stroke="#555" stroke-width="0.9" />
<text x="749.19" y="947.70" font-family='"Liberation Sans", sans-serif' font-size="6.6" text-anchor="middle" font-weight="normal" fill="#000" stroke="#000" stroke-width="0.22">0.0</text>
<line x1="736.70" y1="925.60" x2="740.70" y2="925.60" stroke="#555" stroke-width="0.9" />
<text transform="translate(731.40,925.60) rotate(-90)" font-family='"Liberation Sans", sans-serif' font-size="6.6" text-anchor="middle" font-weight="normal" fill="#000" stroke="#000" stroke-width="0.22">0.0</text>
<line x1="791.63" y1="933.20" x2="791.63" y2="937.20" stroke="#555" stroke-width="0.9" />
<text x="791.63" y="947.70" font-family='"Liberation Sans", sans-serif' font-size="6.6" text-anchor="middle" font-weight="normal" fill="#000" stroke="#000" stroke-width="0.22">0.2</text>
<line x1="736.70" y1="887.62" x2="740.70" y2="887.62" stroke="#555" stroke-width="0.9" />
<text transform="translate(731.40,887.62) rotate(-90)" font-family='"Liberation Sans", sans-serif' font-size="6.6" text-anchor="middle" font-weight="normal" fill="#000" stroke="#000" stroke-width="0.22">0.2</text>
<line x1="834.07" y1="933.20" x2="834.07" y2="937.20" stroke="#555" stroke-width="0.9" />
<text x="834.07" y="947.70" font-family='"Liberation Sans", sans-serif' font-size="6.6" text-anchor="middle" font-weight="normal" fill="#000" stroke="#000" stroke-width="0.22">0.4</text>
<line x1="736.70" y1="849.64" x2="740.70" y2="849.64" stroke="#555" stroke-width="0.9" />
<text transform="translate(731.40,849.64) rotate(-90)" font-family='"Liberation Sans", sans-serif' font-size="6.6" text-anchor="middle" font-weight="normal" fill="#000" stroke="#000" stroke-width="0.22">0.4</text>
<line x1="876.51" y1="933.20" x2="876.51" y2="937.20" stroke="#555" stroke-width="0.9" />
<text x="876.51" y="947.70" font-family='"Liberation Sans", sans-serif' font-size="6.6" text-anchor="middle" font-weight="normal" fill="#000" stroke="#000" stroke-width="0.22">0.6</text>
<line x1="736.70" y1="811.66" x2="740.70" y2="811.66" stroke="#555" stroke-width="0.9" />
<text transform="translate(731.40,811.66) rotate(-90)" font-family='"Liberation Sans", sans-serif' font-size="6.6" text-anchor="middle" font-weight="normal" fill="#000" stroke="#000" stroke-width="0.22">0.6</text>
<line x1="918.95" y1="933.20" x2="918.95" y2="937.20" stroke="#555" stroke-width="0.9" />
<text x="918.95" y="947.70" font-family='"Liberation Sans", sans-serif' font-size="6.6" text-anchor="middle" font-weight="normal" fill="#000" stroke="#000" stroke-width="0.22">0.8</text>
<line x1="736.70" y1="773.68" x2="740.70" y2="773.68" stroke="#555" stroke-width="0.9" />
<text transform="translate(731.40,773.68) rotate(-90)" font-family='"Liberation Sans", sans-serif' font-size="6.6" text-anchor="middle" font-weight="normal" fill="#000" stroke="#000" stroke-width="0.22">0.8</text>
<line x1="961.39" y1="933.20" x2="961.39" y2="937.20" stroke="#555" stroke-width="0.9" />
<text x="961.39" y="947.70" font-family='"Liberation Sans", sans-serif' font-size="6.6" text-anchor="middle" font-weight="normal" fill="#000" stroke="#000" stroke-width="0.22">1.0</text>
<line x1="736.70" y1="735.70" x2="740.70" y2="735.70" stroke="#555" stroke-width="0.9" />
<text transform="translate(731.40,735.70) rotate(-90)" font-family='"Liberation Sans", sans-serif' font-size="6.6" text-anchor="middle" font-weight="normal" fill="#000" stroke="#000" stroke-width="0.22">1.0</text>
<text x="855.30" y="963.70" font-family='"Liberation Sans", sans-serif' font-size="6.6" text-anchor="middle" font-weight="normal" fill="#000" stroke="#000" stroke-width="0.22">Nomogram−Predicted Probability of 1−Year RFS</text>
<text transform="translate(715.40,830.60) rotate(-90)" font-family='"Liberation Sans", sans-serif' font-size="6.6" text-anchor="middle" font-weight="normal" fill="#000" stroke="#000" stroke-width="0.22">Actual 1−Year RFS</text>
<line x1="741.70" y1="932.20" x2="968.90" y2="729.10" stroke="#111" stroke-width="1.3" stroke-dasharray="1.3,2.1"/>
<line x1="927.00" y1="728.10" x2="927.00" y2="732.10" stroke="#444" stroke-width="0.8" />
<line x1="928.50" y1="728.10" x2="928.50" y2="732.10" stroke="#444" stroke-width="0.8" />
<line x1="929.80" y1="728.10" x2="929.80" y2="732.10" stroke="#444" stroke-width="0.8" />
<line x1="940.00" y1="728.10" x2="940.00" y2="731.10" stroke="#444" stroke-width="0.8" />
<line x1="946.80" y1="728.10" x2="946.80" y2="732.10" stroke="#444" stroke-width="0.8" />
<line x1="949.20" y1="728.10" x2="949.20" y2="732.10" stroke="#444" stroke-width="0.8" />
<line x1="952.60" y1="728.10" x2="952.60" y2="731.10" stroke="#444" stroke-width="0.8" />
<line x1="956.20" y1="728.10" x2="956.20" y2="732.10" stroke="#444" stroke-width="0.8" />
<line x1="957.70" y1="728.10" x2="957.70" y2="732.10" stroke="#444" stroke-width="0.8" />
<line x1="959.20" y1="728.10" x2="959.20" y2="732.10" stroke="#444" stroke-width="0.8" />
<polyline points="926.80,768.70 945.50,750.80 955.10,739.60 958.60,740.20" fill="none" stroke="#3A48F5" stroke-width="1.0" stroke-linejoin="round" />
<line x1="926.80" y1="742.60" x2="926.80" y2="791.50" stroke="#111" stroke-width="1.3" />
<line x1="924.60" y1="742.60" x2="929.00" y2="742.60" stroke="#111" stroke-width="1.3" />
<line x1="924.60" y1="791.50" x2="929.00" y2="791.50" stroke="#111" stroke-width="1.3" />
<circle cx="926.80" cy="768.70" r="1.7" fill="#0010B0"/>
<line x1="945.50" y1="736.00" x2="945.50" y2="763.50" stroke="#111" stroke-width="1.3" />
<line x1="943.30" y1="736.00" x2="947.70" y2="736.00" stroke="#111" stroke-width="1.3" />
<line x1="943.30" y1="763.50" x2="947.70" y2="763.50" stroke="#111" stroke-width="1.3" />
<circle cx="945.50" cy="750.80" r="1.7" fill="#0010B0"/>
<line x1="955.10" y1="735.80" x2="955.10" y2="746.40" stroke="#111" stroke-width="1.3" />
<line x1="952.90" y1="735.80" x2="957.30" y2="735.80" stroke="#111" stroke-width="1.3" />
<line x1="952.90" y1="746.40" x2="957.30" y2="746.40" stroke="#111" stroke-width="1.3" />
<circle cx="955.10" cy="739.60" r="1.7" fill="#0010B0"/>
<line x1="958.60" y1="736.00" x2="958.60" y2="747.20" stroke="#111" stroke-width="1.3" />
<line x1="956.40" y1="736.00" x2="960.80" y2="736.00" stroke="#111" stroke-width="1.3" />
<line x1="956.40" y1="747.20" x2="960.80" y2="747.20" stroke="#111" stroke-width="1.3" />
<circle cx="958.60" cy="740.20" r="1.7" fill="#0010B0"/>
<path d="M925.20,763.80L928.40,767.00M925.20,767.00L928.40,763.80" stroke="#4455FF" stroke-width="0.8" fill="none"/>
<path d="M943.90,751.90L947.10,755.10M943.90,755.10L947.10,751.90" stroke="#4455FF" stroke-width="0.8" fill="none"/>
<path d="M953.50,740.90L956.70,744.10M953.50,744.10L956.70,740.90" stroke="#4455FF" stroke-width="0.8" fill="none"/>
<path d="M957.00,741.60L960.20,744.80M957.00,744.80L960.20,741.60" stroke="#4455FF" stroke-width="0.8" fill="none"/>
<rect x="1068.50" y="728.80" width="229.2" height="205.1" fill="none" stroke="#666" stroke-width="1.1"/>
<line x1="1076.99" y1="933.90" x2="1076.99" y2="937.90" stroke="#555" stroke-width="0.9" />
<text x="1076.99" y="948.40" font-family='"Liberation Sans", sans-serif' font-size="6.6" text-anchor="middle" font-weight="normal" fill="#000" stroke="#000" stroke-width="0.22">0.0</text>
<line x1="1064.50" y1="926.30" x2="1068.50" y2="926.30" stroke="#555" stroke-width="0.9" />
<text transform="translate(1059.20,926.30) rotate(-90)" font-family='"Liberation Sans", sans-serif' font-size="6.6" text-anchor="middle" font-weight="normal" fill="#000" stroke="#000" stroke-width="0.22">0.0</text>
<line x1="1119.43" y1="933.90" x2="1119.43" y2="937.90" stroke="#555" stroke-width="0.9" />
<text x="1119.43" y="948.40" font-family='"Liberation Sans", sans-serif' font-size="6.6" text-anchor="middle" font-weight="normal" fill="#000" stroke="#000" stroke-width="0.22">0.2</text>
<line x1="1064.50" y1="888.32" x2="1068.50" y2="888.32" stroke="#555" stroke-width="0.9" />
<text transform="translate(1059.20,888.32) rotate(-90)" font-family='"Liberation Sans", sans-serif' font-size="6.6" text-anchor="middle" font-weight="normal" fill="#000" stroke="#000" stroke-width="0.22">0.2</text>
<line x1="1161.87" y1="933.90" x2="1161.87" y2="937.90" stroke="#555" stroke-width="0.9" />
<text x="1161.87" y="948.40" font-family='"Liberation Sans", sans-serif' font-size="6.6" text-anchor="middle" font-weight="normal" fill="#000" stroke="#000" stroke-width="0.22">0.4</text>
<line x1="1064.50" y1="850.34" x2="1068.50" y2="850.34" stroke="#555" stroke-width="0.9" />
<text transform="translate(1059.20,850.34) rotate(-90)" font-family='"Liberation Sans", sans-serif' font-size="6.6" text-anchor="middle" font-weight="normal" fill="#000" stroke="#000" stroke-width="0.22">0.4</text>
<line x1="1204.31" y1="933.90" x2="1204.31" y2="937.90" stroke="#555" stroke-width="0.9" />
<text x="1204.31" y="948.40" font-family='"Liberation Sans", sans-serif' font-size="6.6" text-anchor="middle" font-weight="normal" fill="#000" stroke="#000" stroke-width="0.22">0.6</text>
<line x1="1064.50" y1="812.36" x2="1068.50" y2="812.36" stroke="#555" stroke-width="0.9" />
<text transform="translate(1059.20,812.36) rotate(-90)" font-family='"Liberation Sans", sans-serif' font-size="6.6" text-anchor="middle" font-weight="normal" fill="#000" stroke="#000" stroke-width="0.22">0.6</text>
<line x1="1246.75" y1="933.90" x2="1246.75" y2="937.90" stroke="#555" stroke-width="0.9" />
<text x="1246.75" y="948.40" font-family='"Liberation Sans", sans-serif' font-size="6.6" text-anchor="middle" font-weight="normal" fill="#000" stroke="#000" stroke-width="0.22">0.8</text>
<line x1="1064.50" y1="774.38" x2="1068.50" y2="774.38" stroke="#555" stroke-width="0.9" />
<text transform="translate(1059.20,774.38) rotate(-90)" font-family='"Liberation Sans", sans-serif' font-size="6.6" text-anchor="middle" font-weight="normal" fill="#000" stroke="#000" stroke-width="0.22">0.8</text>
<line x1="1289.19" y1="933.90" x2="1289.19" y2="937.90" stroke="#555" stroke-width="0.9" />
<text x="1289.19" y="948.40" font-family='"Liberation Sans", sans-serif' font-size="6.6" text-anchor="middle" font-weight="normal" fill="#000" stroke="#000" stroke-width="0.22">1.0</text>
<line x1="1064.50" y1="736.40" x2="1068.50" y2="736.40" stroke="#555" stroke-width="0.9" />
<text transform="translate(1059.20,736.40) rotate(-90)" font-family='"Liberation Sans", sans-serif' font-size="6.6" text-anchor="middle" font-weight="normal" fill="#000" stroke="#000" stroke-width="0.22">1.0</text>
<text x="1183.10" y="964.40" font-family='"Liberation Sans", sans-serif' font-size="6.6" text-anchor="middle" font-weight="normal" fill="#000" stroke="#000" stroke-width="0.22">Nomogram−Predicted Probability of 3−Year RFS</text>
<text transform="translate(1043.20,831.30) rotate(-90)" font-family='"Liberation Sans", sans-serif' font-size="6.6" text-anchor="middle" font-weight="normal" fill="#000" stroke="#000" stroke-width="0.22">Actual 3−Year RFS</text>
<line x1="1069.50" y1="932.90" x2="1296.70" y2="729.80" stroke="#111" stroke-width="1.3" stroke-dasharray="1.3,2.1"/>
<line x1="1188.00" y1="728.80" x2="1188.00" y2="732.80" stroke="#444" stroke-width="0.8" />
<line x1="1190.00" y1="728.80" x2="1190.00" y2="732.80" stroke="#444" stroke-width="0.8" />
<line x1="1217.00" y1="728.80" x2="1217.00" y2="731.80" stroke="#444" stroke-width="0.8" />
<line x1="1239.00" y1="728.80" x2="1239.00" y2="732.80" stroke="#444" stroke-width="0.8" />
<line x1="1246.00" y1="728.80" x2="1246.00" y2="731.80" stroke="#444" stroke-width="0.8" />
<line x1="1260.00" y1="728.80" x2="1260.00" y2="731.80" stroke="#444" stroke-width="0.8" />
<line x1="1272.00" y1="728.80" x2="1272.00" y2="732.80" stroke="#444" stroke-width="0.8" />
<line x1="1279.00" y1="728.80" x2="1279.00" y2="731.80" stroke="#444" stroke-width="0.8" />
<polyline points="1187.30,833.30 1235.70,795.40 1266.60,744.40 1277.80,744.40" fill="none" stroke="#3A48F5" stroke-width="1.0" stroke-linejoin="round" />
<line x1="1187.30" y1="789.60" x2="1187.30" y2="863.00" stroke="#111" stroke-width="1.3" />
<line x1="1185.10" y1="789.60" x2="1189.50" y2="789.60" stroke="#111" stroke-width="1.3" />
<line x1="1185.10" y1="863.00" x2="1189.50" y2="863.00" stroke="#111" stroke-width="1.3" />
<circle cx="1187.30" cy="833.30" r="1.7" fill="#0010B0"/>
<line x1="1235.70" y1="764.30" x2="1235.70" y2="820.50" stroke="#111" stroke-width="1.3" />
<line x1="1233.50" y1="764.30" x2="1237.90" y2="764.30" stroke="#111" stroke-width="1.3" />
<line x1="1233.50" y1="820.50" x2="1237.90" y2="820.50" stroke="#111" stroke-width="1.3" />
<circle cx="1235.70" cy="795.40" r="1.7" fill="#0010B0"/>
<line x1="1266.60" y1="736.70" x2="1266.60" y2="755.40" stroke="#111" stroke-width="1.3" />
<line x1="1264.40" y1="736.70" x2="1268.80" y2="736.70" stroke="#111" stroke-width="1.3" />
<line x1="1264.40" y1="755.40" x2="1268.80" y2="755.40" stroke="#111" stroke-width="1.3" />
<circle cx="1266.60" cy="744.40" r="1.7" fill="#0010B0"/>
<line x1="1277.80" y1="736.70" x2="1277.80" y2="755.40" stroke="#111" stroke-width="1.3" />
<line x1="1275.60" y1="736.70" x2="1280.00" y2="736.70" stroke="#111" stroke-width="1.3" />
<line x1="1275.60" y1="755.40" x2="1280.00" y2="755.40" stroke="#111" stroke-width="1.3" />
<circle cx="1277.80" cy="744.40" r="1.7" fill="#0010B0"/>
<path d="M1185.70,826.60L1188.90,829.80M1185.70,829.80L1188.90,826.60" stroke="#4455FF" stroke-width="0.8" fill="none"/>
<path d="M1234.10,796.60L1237.30,799.80M1234.10,799.80L1237.30,796.60" stroke="#4455FF" stroke-width="0.8" fill="none"/>
<path d="M1265.00,746.40L1268.20,749.60M1265.00,749.60L1268.20,746.40" stroke="#4455FF" stroke-width="0.8" fill="none"/>
<path d="M1276.20,746.40L1279.40,749.60M1276.20,749.60L1279.40,746.40" stroke="#4455FF" stroke-width="0.8" fill="none"/>
<rect x="743.30" y="1003.10" width="229.2" height="205.1" fill="none" stroke="#666" stroke-width="1.1"/>
<line x1="751.79" y1="1208.20" x2="751.79" y2="1212.20" stroke="#555" stroke-width="0.9" />
<text x="751.79" y="1222.70" font-family='"Liberation Sans", sans-serif' font-size="6.6" text-anchor="middle" font-weight="normal" fill="#000" stroke="#000" stroke-width="0.22">0.0</text>
<line x1="739.30" y1="1200.60" x2="743.30" y2="1200.60" stroke="#555" stroke-width="0.9" />
<text transform="translate(734.00,1200.60) rotate(-90)" font-family='"Liberation Sans", sans-serif' font-size="6.6" text-anchor="middle" font-weight="normal" fill="#000" stroke="#000" stroke-width="0.22">0.0</text>
<line x1="794.23" y1="1208.20" x2="794.23" y2="1212.20" stroke="#555" stroke-width="0.9" />
<text x="794.23" y="1222.70" font-family='"Liberation Sans", sans-serif' font-size="6.6" text-anchor="middle" font-weight="normal" fill="#000" stroke="#000" stroke-width="0.22">0.2</text>
<line x1="739.30" y1="1162.62" x2="743.30" y2="1162.62" stroke="#555" stroke-width="0.9" />
<text transform="translate(734.00,1162.62) rotate(-90)" font-family='"Liberation Sans", sans-serif' font-size="6.6" text-anchor="middle" font-weight="normal" fill="#000" stroke="#000" stroke-width="0.22">0.2</text>
<line x1="836.67" y1="1208.20" x2="836.67" y2="1212.20" stroke="#555" stroke-width="0.9" />
<text x="836.67" y="1222.70" font-family='"Liberation Sans", sans-serif' font-size="6.6" text-anchor="middle" font-weight="normal" fill="#000" stroke="#000" stroke-width="0.22">0.4</text>
<line x1="739.30" y1="1124.64" x2="743.30" y2="1124.64" stroke="#555" stroke-width="0.9" />
<text transform="translate(734.00,1124.64) rotate(-90)" font-family='"Liberation Sans", sans-serif' font-size="6.6" text-anchor="middle" font-weight="normal" fill="#000" stroke="#000" stroke-width="0.22">0.4</text>
<line x1="879.11" y1="1208.20" x2="879.11" y2="1212.20" stroke="#555" stroke-width="0.9" />
<text x="879.11" y="1222.70" font-family='"Liberation Sans", sans-serif' font-size="6.6" text-anchor="middle" font-weight="normal" fill="#000" stroke="#000" stroke-width="0.22">0.6</text>
<line x1="739.30" y1="1086.66" x2="743.30" y2="1086.66" stroke="#555" stroke-width="0.9" />
<text transform="translate(734.00,1086.66) rotate(-90)" font-family='"Liberation Sans", sans-serif' font-size="6.6" text-anchor="middle" font-weight="normal" fill="#000" stroke="#000" stroke-width="0.22">0.6</text>
<line x1="921.55" y1="1208.20" x2="921.55" y2="1212.20" stroke="#555" stroke-width="0.9" />
<text x="921.55" y="1222.70" font-family='"Liberation Sans", sans-serif' font-size="6.6" text-anchor="middle" font-weight="normal" fill="#000" stroke="#000" stroke-width="0.22">0.8</text>
<line x1="739.30" y1="1048.68" x2="743.30" y2="1048.68" stroke="#555" stroke-width="0.9" />
<text transform="translate(734.00,1048.68) rotate(-90)" font-family='"Liberation Sans", sans-serif' font-size="6.6" text-anchor="middle" font-weight="normal" fill="#000" stroke="#000" stroke-width="0.22">0.8</text>
<line x1="963.99" y1="1208.20" x2="963.99" y2="1212.20" stroke="#555" stroke-width="0.9" />
<text x="963.99" y="1222.70" font-family='"Liberation Sans", sans-serif' font-size="6.6" text-anchor="middle" font-weight="normal" fill="#000" stroke="#000" stroke-width="0.22">1.0</text>
<line x1="739.30" y1="1010.70" x2="743.30" y2="1010.70" stroke="#555" stroke-width="0.9" />
<text transform="translate(734.00,1010.70) rotate(-90)" font-family='"Liberation Sans", sans-serif' font-size="6.6" text-anchor="middle" font-weight="normal" fill="#000" stroke="#000" stroke-width="0.22">1.0</text>
<text x="857.90" y="1238.70" font-family='"Liberation Sans", sans-serif' font-size="6.6" text-anchor="middle" font-weight="normal" fill="#000" stroke="#000" stroke-width="0.22">Nomogram−Predicted Probability of 5−Year RFS</text>
<text transform="translate(718.00,1105.60) rotate(-90)" font-family='"Liberation Sans", sans-serif' font-size="6.6" text-anchor="middle" font-weight="normal" fill="#000" stroke="#000" stroke-width="0.22">Actual 5−Year RFS</text>
<line x1="744.30" y1="1207.20" x2="971.50" y2="1004.10" stroke="#111" stroke-width="1.3" stroke-dasharray="1.3,2.1"/>
<line x1="832.00" y1="1003.10" x2="832.00" y2="1007.10" stroke="#444" stroke-width="0.8" />
<line x1="834.00" y1="1003.10" x2="834.00" y2="1007.10" stroke="#444" stroke-width="0.8" />
<line x1="868.00" y1="1003.10" x2="868.00" y2="1006.10" stroke="#444" stroke-width="0.8" />
<line x1="895.00" y1="1003.10" x2="895.00" y2="1007.10" stroke="#444" stroke-width="0.8" />
<line x1="903.00" y1="1003.10" x2="903.00" y2="1006.10" stroke="#444" stroke-width="0.8" />
<line x1="921.00" y1="1003.10" x2="921.00" y2="1006.10" stroke="#444" stroke-width="0.8" />
<line x1="937.00" y1="1003.10" x2="937.00" y2="1007.10" stroke="#444" stroke-width="0.8" />
<line x1="948.00" y1="1003.10" x2="948.00" y2="1007.10" stroke="#444" stroke-width="0.8" />
<polyline points="832.30,1140.00 889.90,1079.70 930.90,1031.70 947.20,1019.20" fill="none" stroke="#3A48F5" stroke-width="1.0" stroke-linejoin="round" />
<line x1="832.30" y1="1087.20" x2="832.30" y2="1168.10" stroke="#111" stroke-width="1.3" />
<line x1="830.10" y1="1087.20" x2="834.50" y2="1087.20" stroke="#111" stroke-width="1.3" />
<line x1="830.10" y1="1168.10" x2="834.50" y2="1168.10" stroke="#111" stroke-width="1.3" />
<circle cx="832.30" cy="1140.00" r="1.7" fill="#0010B0"/>
<line x1="889.90" y1="1043.40" x2="889.90" y2="1108.00" stroke="#111" stroke-width="1.3" />
<line x1="887.70" y1="1043.40" x2="892.10" y2="1043.40" stroke="#111" stroke-width="1.3" />
<line x1="887.70" y1="1108.00" x2="892.10" y2="1108.00" stroke="#111" stroke-width="1.3" />
<circle cx="889.90" cy="1079.70" r="1.7" fill="#0010B0"/>
<line x1="930.90" y1="1011.00" x2="930.90" y2="1050.70" stroke="#111" stroke-width="1.3" />
<line x1="928.70" y1="1011.00" x2="933.10" y2="1011.00" stroke="#111" stroke-width="1.3" />
<line x1="928.70" y1="1050.70" x2="933.10" y2="1050.70" stroke="#111" stroke-width="1.3" />
<circle cx="930.90" cy="1031.70" r="1.7" fill="#0010B0"/>
<line x1="947.20" y1="1011.00" x2="947.20" y2="1029.40" stroke="#111" stroke-width="1.3" />
<line x1="945.00" y1="1011.00" x2="949.40" y2="1011.00" stroke="#111" stroke-width="1.3" />
<line x1="945.00" y1="1029.40" x2="949.40" y2="1029.40" stroke="#111" stroke-width="1.3" />
<circle cx="947.20" cy="1019.20" r="1.7" fill="#0010B0"/>
<path d="M830.70,1132.50L833.90,1135.70M830.70,1135.70L833.90,1132.50" stroke="#4455FF" stroke-width="0.8" fill="none"/>
<path d="M888.30,1079.70L891.50,1082.90M888.30,1082.90L891.50,1079.70" stroke="#4455FF" stroke-width="0.8" fill="none"/>
<path d="M929.30,1033.40L932.50,1036.60M929.30,1036.60L932.50,1033.40" stroke="#4455FF" stroke-width="0.8" fill="none"/>
<path d="M945.60,1020.40L948.80,1023.60M945.60,1023.60L948.80,1020.40" stroke="#4455FF" stroke-width="0.8" fill="none"/>
<rect x="40.20" y="1346.00" width="229.2" height="205.1" fill="none" stroke="#666" stroke-width="1.1"/>
<line x1="48.69" y1="1551.10" x2="48.69" y2="1555.10" stroke="#555" stroke-width="0.9" />
<text x="48.69" y="1565.60" font-family='"Liberation Sans", sans-serif' font-size="6.6" text-anchor="middle" font-weight="normal" fill="#000" stroke="#000" stroke-width="0.22">0.0</text>
<line x1="36.20" y1="1543.50" x2="40.20" y2="1543.50" stroke="#555" stroke-width="0.9" />
<text transform="translate(30.90,1543.50) rotate(-90)" font-family='"Liberation Sans", sans-serif' font-size="6.6" text-anchor="middle" font-weight="normal" fill="#000" stroke="#000" stroke-width="0.22">0.0</text>
<line x1="91.13" y1="1551.10" x2="91.13" y2="1555.10" stroke="#555" stroke-width="0.9" />
<text x="91.13" y="1565.60" font-family='"Liberation Sans", sans-serif' font-size="6.6" text-anchor="middle" font-weight="normal" fill="#000" stroke="#000" stroke-width="0.22">0.2</text>
<line x1="36.20" y1="1505.52" x2="40.20" y2="1505.52" stroke="#555" stroke-width="0.9" />
<text transform="translate(30.90,1505.52) rotate(-90)" font-family='"Liberation Sans", sans-serif' font-size="6.6" text-anchor="middle" font-weight="normal" fill="#000" stroke="#000" stroke-width="0.22">0.2</text>
<line x1="133.57" y1="1551.10" x2="133.57" y2="1555.10" stroke="#555" stroke-width="0.9" />
<text x="133.57" y="1565.60" font-family='"Liberation Sans", sans-serif' font-size="6.6" text-anchor="middle" font-weight="normal" fill="#000" stroke="#000" stroke-width="0.22">0.4</text>
<line x1="36.20" y1="1467.54" x2="40.20" y2="1467.54" stroke="#555" stroke-width="0.9" />
<text transform="translate(30.90,1467.54) rotate(-90)" font-family='"Liberation Sans", sans-serif' font-size="6.6" text-anchor="middle" font-weight="normal" fill="#000" stroke="#000" stroke-width="0.22">0.4</text>
<line x1="176.01" y1="1551.10" x2="176.01" y2="1555.10" stroke="#555" stroke-width="0.9" />
<text x="176.01" y="1565.60" font-family='"Liberation Sans", sans-serif' font-size="6.6" text-anchor="middle" font-weight="normal" fill="#000" stroke="#000" stroke-width="0.22">0.6</text>
<line x1="36.20" y1="1429.56" x2="40.20" y2="1429.56" stroke="#555" stroke-width="0.9" />
<text transform="translate(30.90,1429.56) rotate(-90)" font-family='"Liberation Sans", sans-serif' font-size="6.6" text-anchor="middle" font-weight="normal" fill="#000" stroke="#000" stroke-width="0.22">0.6</text>
<line x1="218.45" y1="1551.10" x2="218.45" y2="1555.10" stroke="#555" stroke-width="0.9" />
<text x="218.45" y="1565.60" font-family='"Liberation Sans", sans-serif' font-size="6.6" text-anchor="middle" font-weight="normal" fill="#000" stroke="#000" stroke-width="0.22">0.8</text>
<line x1="36.20" y1="1391.58" x2="40.20" y2="1391.58" stroke="#555" stroke-width="0.9" />
<text transform="translate(30.90,1391.58) rotate(-90)" font-family='"Liberation Sans", sans-serif' font-size="6.6" text-anchor="middle" font-weight="normal" fill="#000" stroke="#000" stroke-width="0.22">0.8</text>
<line x1="260.89" y1="1551.10" x2="260.89" y2="1555.10" stroke="#555" stroke-width="0.9" />
<text x="260.89" y="1565.60" font-family='"Liberation Sans", sans-serif' font-size="6.6" text-anchor="middle" font-weight="normal" fill="#000" stroke="#000" stroke-width="0.22">1.0</text>
<line x1="36.20" y1="1353.60" x2="40.20" y2="1353.60" stroke="#555" stroke-width="0.9" />
<text transform="translate(30.90,1353.60) rotate(-90)" font-family='"Liberation Sans", sans-serif' font-size="6.6" text-anchor="middle" font-weight="normal" fill="#000" stroke="#000" stroke-width="0.22">1.0</text>
<text x="154.80" y="1581.60" font-family='"Liberation Sans", sans-serif' font-size="6.6" text-anchor="middle" font-weight="normal" fill="#000" stroke="#000" stroke-width="0.22">Nomogram−Predicted Probability of 1−Year RFS</text>
<text transform="translate(14.90,1448.50) rotate(-90)" font-family='"Liberation Sans", sans-serif' font-size="6.6" text-anchor="middle" font-weight="normal" fill="#000" stroke="#000" stroke-width="0.22">Actual 1−Year RFS</text>
<line x1="41.20" y1="1550.10" x2="268.40" y2="1347.00" stroke="#111" stroke-width="1.3" stroke-dasharray="1.3,2.1"/>
<line x1="212.90" y1="1346.00" x2="212.90" y2="1355.00" stroke="#444" stroke-width="0.8" />
<line x1="225.50" y1="1346.00" x2="225.50" y2="1350.00" stroke="#444" stroke-width="0.8" />
<line x1="236.00" y1="1346.00" x2="236.00" y2="1350.00" stroke="#444" stroke-width="0.8" />
<line x1="250.00" y1="1346.00" x2="250.00" y2="1350.00" stroke="#444" stroke-width="0.8" />
<line x1="252.00" y1="1346.00" x2="252.00" y2="1350.00" stroke="#444" stroke-width="0.8" />
<line x1="254.00" y1="1346.00" x2="254.00" y2="1350.00" stroke="#444" stroke-width="0.8" />
<line x1="256.00" y1="1346.00" x2="256.00" y2="1350.00" stroke="#444" stroke-width="0.8" />
<line x1="258.00" y1="1346.00" x2="258.00" y2="1350.00" stroke="#444" stroke-width="0.8" />
<polyline points="217.50,1395.30 243.30,1362.30 253.30,1367.00 256.80,1356.00" fill="none" stroke="#3A48F5" stroke-width="1.0" stroke-linejoin="round" />
<line x1="217.50" y1="1370.50" x2="217.50" y2="1417.30" stroke="#111" stroke-width="1.3" />
<line x1="215.30" y1="1370.50" x2="219.70" y2="1370.50" stroke="#111" stroke-width="1.3" />
<line x1="215.30" y1="1417.30" x2="219.70" y2="1417.30" stroke="#111" stroke-width="1.3" />
<circle cx="217.50" cy="1395.30" r="1.7" fill="#0010B0"/>
<line x1="243.30" y1="1353.50" x2="243.30" y2="1373.60" stroke="#111" stroke-width="1.3" />
<line x1="241.10" y1="1353.50" x2="245.50" y2="1353.50" stroke="#111" stroke-width="1.3" />
<line x1="241.10" y1="1373.60" x2="245.50" y2="1373.60" stroke="#111" stroke-width="1.3" />
<circle cx="243.30" cy="1362.30" r="1.7" fill="#0010B0"/>
<line x1="253.30" y1="1353.50" x2="253.30" y2="1384.10" stroke="#111" stroke-width="1.3" />
<line x1="251.10" y1="1353.50" x2="255.50" y2="1353.50" stroke="#111" stroke-width="1.3" />
<line x1="251.10" y1="1384.10" x2="255.50" y2="1384.10" stroke="#111" stroke-width="1.3" />
<circle cx="253.30" cy="1367.00" r="1.7" fill="#0010B0"/>
<line x1="256.80" y1="1353.50" x2="256.80" y2="1361.90" stroke="#111" stroke-width="1.3" />
<line x1="254.60" y1="1353.50" x2="259.00" y2="1353.50" stroke="#111" stroke-width="1.3" />
<line x1="254.60" y1="1361.90" x2="259.00" y2="1361.90" stroke="#111" stroke-width="1.3" />
<circle cx="256.80" cy="1356.00" r="1.7" fill="#0010B0"/>
<path d="M215.90,1390.40L219.10,1393.60M215.90,1393.60L219.10,1390.40" stroke="#4455FF" stroke-width="0.8" fill="none"/>
<path d="M241.70,1362.90L244.90,1366.10M241.70,1366.10L244.90,1362.90" stroke="#4455FF" stroke-width="0.8" fill="none"/>
<path d="M255.20,1357.40L258.40,1360.60M255.20,1360.60L258.40,1357.40" stroke="#4455FF" stroke-width="0.8" fill="none"/>
<rect x="372.60" y="1346.20" width="229.2" height="205.1" fill="none" stroke="#666" stroke-width="1.1"/>
<line x1="381.09" y1="1551.30" x2="381.09" y2="1555.30" stroke="#555" stroke-width="0.9" />
<text x="381.09" y="1565.80" font-family='"Liberation Sans", sans-serif' font-size="6.6" text-anchor="middle" font-weight="normal" fill="#000" stroke="#000" stroke-width="0.22">0.0</text>
<line x1="368.60" y1="1543.70" x2="372.60" y2="1543.70" stroke="#555" stroke-width="0.9" />
<text transform="translate(363.30,1543.70) rotate(-90)" font-family='"Liberation Sans", sans-serif' font-size="6.6" text-anchor="middle" font-weight="normal" fill="#000" stroke="#000" stroke-width="0.22">0.0</text>
<line x1="423.53" y1="1551.30" x2="423.53" y2="1555.30" stroke="#555" stroke-width="0.9" />
<text x="423.53" y="1565.80" font-family='"Liberation Sans", sans-serif' font-size="6.6" text-anchor="middle" font-weight="normal" fill="#000" stroke="#000" stroke-width="0.22">0.2</text>
<line x1="368.60" y1="1505.72" x2="372.60" y2="1505.72" stroke="#555" stroke-width="0.9" />
<text transform="translate(363.30,1505.72) rotate(-90)" font-family='"Liberation Sans", sans-serif' font-size="6.6" text-anchor="middle" font-weight="normal" fill="#000" stroke="#000" stroke-width="0.22">0.2</text>
<line x1="465.97" y1="1551.30" x2="465.97" y2="1555.30" stroke="#555" stroke-width="0.9" />
<text x="465.97" y="1565.80" font-family='"Liberation Sans", sans-serif' font-size="6.6" text-anchor="middle" font-weight="normal" fill="#000" stroke="#000" stroke-width="0.22">0.4</text>
<line x1="368.60" y1="1467.74" x2="372.60" y2="1467.74" stroke="#555" stroke-width="0.9" />
<text transform="translate(363.30,1467.74) rotate(-90)" font-family='"Liberation Sans", sans-serif' font-size="6.6" text-anchor="middle" font-weight="normal" fill="#000" stroke="#000" stroke-width="0.22">0.4</text>
<line x1="508.41" y1="1551.30" x2="508.41" y2="1555.30" stroke="#555" stroke-width="0.9" />
<text x="508.41" y="1565.80" font-family='"Liberation Sans", sans-serif' font-size="6.6" text-anchor="middle" font-weight="normal" fill="#000" stroke="#000" stroke-width="0.22">0.6</text>
<line x1="368.60" y1="1429.76" x2="372.60" y2="1429.76" stroke="#555" stroke-width="0.9" />
<text transform="translate(363.30,1429.76) rotate(-90)" font-family='"Liberation Sans", sans-serif' font-size="6.6" text-anchor="middle" font-weight="normal" fill="#000" stroke="#000" stroke-width="0.22">0.6</text>
<line x1="550.85" y1="1551.30" x2="550.85" y2="1555.30" stroke="#555" stroke-width="0.9" />
<text x="550.85" y="1565.80" font-family='"Liberation Sans", sans-serif' font-size="6.6" text-anchor="middle" font-weight="normal" fill="#000" stroke="#000" stroke-width="0.22">0.8</text>
<line x1="368.60" y1="1391.78" x2="372.60" y2="1391.78" stroke="#555" stroke-width="0.9" />
<text transform="translate(363.30,1391.78) rotate(-90)" font-family='"Liberation Sans", sans-serif' font-size="6.6" text-anchor="middle" font-weight="normal" fill="#000" stroke="#000" stroke-width="0.22">0.8</text>
<line x1="593.29" y1="1551.30" x2="593.29" y2="1555.30" stroke="#555" stroke-width="0.9" />
<text x="593.29" y="1565.80" font-family='"Liberation Sans", sans-serif' font-size="6.6" text-anchor="middle" font-weight="normal" fill="#000" stroke="#000" stroke-width="0.22">1.0</text>
<line x1="368.60" y1="1353.80" x2="372.60" y2="1353.80" stroke="#555" stroke-width="0.9" />
<text transform="translate(363.30,1353.80) rotate(-90)" font-family='"Liberation Sans", sans-serif' font-size="6.6" text-anchor="middle" font-weight="normal" fill="#000" stroke="#000" stroke-width="0.22">1.0</text>
<text x="487.20" y="1581.80" font-family='"Liberation Sans", sans-serif' font-size="6.6" text-anchor="middle" font-weight="normal" fill="#000" stroke="#000" stroke-width="0.22">Nomogram−Predicted Probability of 3−Year RFS</text>
<text transform="translate(347.30,1448.70) rotate(-90)" font-family='"Liberation Sans", sans-serif' font-size="6.6" text-anchor="middle" font-weight="normal" fill="#000" stroke="#000" stroke-width="0.22">Actual 3−Year RFS</text>
<line x1="373.60" y1="1550.30" x2="600.80" y2="1347.20" stroke="#111" stroke-width="1.3" stroke-dasharray="1.3,2.1"/>
<line x1="492.00" y1="1346.20" x2="492.00" y2="1355.20" stroke="#444" stroke-width="0.8" />
<line x1="513.00" y1="1346.20" x2="513.00" y2="1350.20" stroke="#444" stroke-width="0.8" />
<line x1="533.30" y1="1346.20" x2="533.30" y2="1350.20" stroke="#444" stroke-width="0.8" />
<line x1="540.00" y1="1346.20" x2="540.00" y2="1349.20" stroke="#444" stroke-width="0.8" />
<line x1="567.50" y1="1346.20" x2="567.50" y2="1350.20" stroke="#444" stroke-width="0.8" />
<line x1="576.00" y1="1346.20" x2="576.00" y2="1350.20" stroke="#444" stroke-width="0.8" />
<line x1="578.50" y1="1346.20" x2="578.50" y2="1351.20" stroke="#444" stroke-width="0.8" />
<line x1="584.50" y1="1346.20" x2="584.50" y2="1351.20" stroke="#444" stroke-width="0.8" />
<polyline points="498.20,1430.00 550.90,1386.20 574.30,1386.20 582.00,1366.10" fill="none" stroke="#3A48F5" stroke-width="1.0" stroke-linejoin="round" />
<line x1="498.20" y1="1393.00" x2="498.20" y2="1458.00" stroke="#111" stroke-width="1.3" />
<line x1="496.00" y1="1393.00" x2="500.40" y2="1393.00" stroke="#111" stroke-width="1.3" />
<line x1="496.00" y1="1458.00" x2="500.40" y2="1458.00" stroke="#111" stroke-width="1.3" />
<circle cx="498.20" cy="1430.00" r="1.7" fill="#0010B0"/>
<line x1="550.90" y1="1356.30" x2="550.90" y2="1411.20" stroke="#111" stroke-width="1.3" />
<line x1="548.70" y1="1356.30" x2="553.10" y2="1356.30" stroke="#111" stroke-width="1.3" />
<line x1="548.70" y1="1411.20" x2="553.10" y2="1411.20" stroke="#111" stroke-width="1.3" />
<circle cx="550.90" cy="1386.20" r="1.7" fill="#0010B0"/>
<line x1="574.30" y1="1353.50" x2="574.30" y2="1413.10" stroke="#111" stroke-width="1.3" />
<line x1="572.10" y1="1353.50" x2="576.50" y2="1353.50" stroke="#111" stroke-width="1.3" />
<line x1="572.10" y1="1413.10" x2="576.50" y2="1413.10" stroke="#111" stroke-width="1.3" />
<circle cx="574.30" cy="1386.20" r="1.7" fill="#0010B0"/>
<line x1="582.00" y1="1353.50" x2="582.00" y2="1380.10" stroke="#111" stroke-width="1.3" />
<line x1="579.80" y1="1353.50" x2="584.20" y2="1353.50" stroke="#111" stroke-width="1.3" />
<line x1="579.80" y1="1380.10" x2="584.20" y2="1380.10" stroke="#111" stroke-width="1.3" />
<circle cx="582.00" cy="1366.10" r="1.7" fill="#0010B0"/>
<path d="M496.60,1424.10L499.80,1427.30M496.60,1427.30L499.80,1424.10" stroke="#4455FF" stroke-width="0.8" fill="none"/>
<path d="M549.30,1388.60L552.50,1391.80M549.30,1391.80L552.50,1388.60" stroke="#4455FF" stroke-width="0.8" fill="none"/>
<path d="M580.40,1367.50L583.60,1370.70M580.40,1370.70L583.60,1367.50" stroke="#4455FF" stroke-width="0.8" fill="none"/>
<rect x="36.30" y="1612.20" width="229.2" height="205.1" fill="none" stroke="#666" stroke-width="1.1"/>
<line x1="44.79" y1="1817.30" x2="44.79" y2="1821.30" stroke="#555" stroke-width="0.9" />
<text x="44.79" y="1831.80" font-family='"Liberation Sans", sans-serif' font-size="6.6" text-anchor="middle" font-weight="normal" fill="#000" stroke="#000" stroke-width="0.22">0.0</text>
<line x1="32.30" y1="1809.70" x2="36.30" y2="1809.70" stroke="#555" stroke-width="0.9" />
<text transform="translate(27.00,1809.70) rotate(-90)" font-family='"Liberation Sans", sans-serif' font-size="6.6" text-anchor="middle" font-weight="normal" fill="#000" stroke="#000" stroke-width="0.22">0.0</text>
<line x1="87.23" y1="1817.30" x2="87.23" y2="1821.30" stroke="#555" stroke-width="0.9" />
<text x="87.23" y="1831.80" font-family='"Liberation Sans", sans-serif' font-size="6.6" text-anchor="middle" font-weight="normal" fill="#000" stroke="#000" stroke-width="0.22">0.2</text>
<line x1="32.30" y1="1771.72" x2="36.30" y2="1771.72" stroke="#555" stroke-width="0.9" />
<text transform="translate(27.00,1771.72) rotate(-90)" font-family='"Liberation Sans", sans-serif' font-size="6.6" text-anchor="middle" font-weight="normal" fill="#000" stroke="#000" stroke-width="0.22">0.2</text>
<line x1="129.67" y1="1817.30" x2="129.67" y2="1821.30" stroke="#555" stroke-width="0.9" />
<text x="129.67" y="1831.80" font-family='"Liberation Sans", sans-serif' font-size="6.6" text-anchor="middle" font-weight="normal" fill="#000" stroke="#000" stroke-width="0.22">0.4</text>
<line x1="32.30" y1="1733.74" x2="36.30" y2="1733.74" stroke="#555" stroke-width="0.9" />
<text transform="translate(27.00,1733.74) rotate(-90)" font-family='"Liberation Sans", sans-serif' font-size="6.6" text-anchor="middle" font-weight="normal" fill="#000" stroke="#000" stroke-width="0.22">0.4</text>
<line x1="172.11" y1="1817.30" x2="172.11" y2="1821.30" stroke="#555" stroke-width="0.9" />
<text x="172.11" y="1831.80" font-family='"Liberation Sans", sans-serif' font-size="6.6" text-anchor="middle" font-weight="normal" fill="#000" stroke="#000" stroke-width="0.22">0.6</text>
<line x1="32.30" y1="1695.76" x2="36.30" y2="1695.76" stroke="#555" stroke-width="0.9" />
<text transform="translate(27.00,1695.76) rotate(-90)" font-family='"Liberation Sans", sans-serif' font-size="6.6" text-anchor="middle" font-weight="normal" fill="#000" stroke="#000" stroke-width="0.22">0.6</text>
<line x1="214.55" y1="1817.30" x2="214.55" y2="1821.30" stroke="#555" stroke-width="0.9" />
<text x="214.55" y="1831.80" font-family='"Liberation Sans", sans-serif' font-size="6.6" text-anchor="middle" font-weight="normal" fill="#000" stroke="#000" stroke-width="0.22">0.8</text>
<line x1="32.30" y1="1657.78" x2="36.30" y2="1657.78" stroke="#555" stroke-width="0.9" />
<text transform="translate(27.00,1657.78) rotate(-90)" font-family='"Liberation Sans", sans-serif' font-size="6.6" text-anchor="middle" font-weight="normal" fill="#000" stroke="#000" stroke-width="0.22">0.8</text>
<line x1="256.99" y1="1817.30" x2="256.99" y2="1821.30" stroke="#555" stroke-width="0.9" />
<text x="256.99" y="1831.80" font-family='"Liberation Sans", sans-serif' font-size="6.6" text-anchor="middle" font-weight="normal" fill="#000" stroke="#000" stroke-width="0.22">1.0</text>
<line x1="32.30" y1="1619.80" x2="36.30" y2="1619.80" stroke="#555" stroke-width="0.9" />
<text transform="translate(27.00,1619.80) rotate(-90)" font-family='"Liberation Sans", sans-serif' font-size="6.6" text-anchor="middle" font-weight="normal" fill="#000" stroke="#000" stroke-width="0.22">1.0</text>
<text x="150.90" y="1847.80" font-family='"Liberation Sans", sans-serif' font-size="6.6" text-anchor="middle" font-weight="normal" fill="#000" stroke="#000" stroke-width="0.22">Nomogram−Predicted Probability of 5−Year RFS</text>
<text transform="translate(11.00,1714.70) rotate(-90)" font-family='"Liberation Sans", sans-serif' font-size="6.6" text-anchor="middle" font-weight="normal" fill="#000" stroke="#000" stroke-width="0.22">Actual 5−Year RFS</text>
<line x1="37.30" y1="1816.30" x2="264.50" y2="1613.20" stroke="#111" stroke-width="1.3" stroke-dasharray="1.3,2.1"/>
<line x1="112.30" y1="1612.20" x2="112.30" y2="1621.20" stroke="#444" stroke-width="0.8" />
<line x1="137.30" y1="1612.20" x2="137.30" y2="1616.20" stroke="#444" stroke-width="0.8" />
<line x1="163.70" y1="1612.20" x2="163.70" y2="1616.20" stroke="#444" stroke-width="0.8" />
<line x1="171.50" y1="1612.20" x2="171.50" y2="1615.20" stroke="#444" stroke-width="0.8" />
<line x1="213.00" y1="1612.20" x2="213.00" y2="1616.20" stroke="#444" stroke-width="0.8" />
<line x1="221.00" y1="1612.20" x2="221.00" y2="1616.20" stroke="#444" stroke-width="0.8" />
<line x1="227.40" y1="1612.20" x2="227.40" y2="1616.20" stroke="#444" stroke-width="0.8" />
<line x1="233.50" y1="1612.20" x2="233.50" y2="1621.20" stroke="#444" stroke-width="0.8" />
<line x1="242.00" y1="1612.20" x2="242.00" y2="1621.20" stroke="#444" stroke-width="0.8" />
<polyline points="119.30,1722.90 188.80,1694.10 224.60,1678.20 237.90,1632.10" fill="none" stroke="#3A48F5" stroke-width="1.0" stroke-linejoin="round" />
<line x1="119.30" y1="1677.70" x2="119.30" y2="1752.60" stroke="#111" stroke-width="1.3" />
<line x1="117.10" y1="1677.70" x2="121.50" y2="1677.70" stroke="#111" stroke-width="1.3" />
<line x1="117.10" y1="1752.60" x2="121.50" y2="1752.60" stroke="#111" stroke-width="1.3" />
<circle cx="119.30" cy="1722.90" r="1.7" fill="#0010B0"/>
<line x1="188.80" y1="1638.40" x2="188.80" y2="1731.50" stroke="#111" stroke-width="1.3" />
<line x1="186.60" y1="1638.40" x2="191.00" y2="1638.40" stroke="#111" stroke-width="1.3" />
<line x1="186.60" y1="1731.50" x2="191.00" y2="1731.50" stroke="#111" stroke-width="1.3" />
<circle cx="188.80" cy="1694.10" r="1.7" fill="#0010B0"/>
<line x1="224.60" y1="1619.20" x2="224.60" y2="1722.20" stroke="#111" stroke-width="1.3" />
<line x1="222.40" y1="1619.20" x2="226.80" y2="1619.20" stroke="#111" stroke-width="1.3" />
<line x1="222.40" y1="1722.20" x2="226.80" y2="1722.20" stroke="#111" stroke-width="1.3" />
<circle cx="224.60" cy="1678.20" r="1.7" fill="#0010B0"/>
<line x1="237.90" y1="1619.20" x2="237.90" y2="1645.70" stroke="#111" stroke-width="1.3" />
<line x1="235.70" y1="1619.20" x2="240.10" y2="1619.20" stroke="#111" stroke-width="1.3" />
<line x1="235.70" y1="1645.70" x2="240.10" y2="1645.70" stroke="#111" stroke-width="1.3" />
<circle cx="237.90" cy="1632.10" r="1.7" fill="#0010B0"/>
<path d="M117.70,1714.70L120.90,1717.90M117.70,1717.90L120.90,1714.70" stroke="#4455FF" stroke-width="0.8" fill="none"/>
<path d="M187.20,1695.30L190.40,1698.50M187.20,1698.50L190.40,1695.30" stroke="#4455FF" stroke-width="0.8" fill="none"/>
<path d="M223.00,1680.10L226.20,1683.30M223.00,1683.30L226.20,1680.10" stroke="#4455FF" stroke-width="0.8" fill="none"/>
<path d="M236.30,1635.20L239.50,1638.40M236.30,1638.40L239.50,1635.20" stroke="#4455FF" stroke-width="0.8" fill="none"/>
<rect x="737.40" y="1341.80" width="229.2" height="205.1" fill="none" stroke="#666" stroke-width="1.1"/>
<line x1="745.89" y1="1546.90" x2="745.89" y2="1550.90" stroke="#555" stroke-width="0.9" />
<text x="745.89" y="1561.40" font-family='"Liberation Sans", sans-serif' font-size="6.6" text-anchor="middle" font-weight="normal" fill="#000" stroke="#000" stroke-width="0.22">0.0</text>
<line x1="733.40" y1="1539.30" x2="737.40" y2="1539.30" stroke="#555" stroke-width="0.9" />
<text transform="translate(728.10,1539.30) rotate(-90)" font-family='"Liberation Sans", sans-serif' font-size="6.6" text-anchor="middle" font-weight="normal" fill="#000" stroke="#000" stroke-width="0.22">0.0</text>
<line x1="788.33" y1="1546.90" x2="788.33" y2="1550.90" stroke="#555" stroke-width="0.9" />
<text x="788.33" y="1561.40" font-family='"Liberation Sans", sans-serif' font-size="6.6" text-anchor="middle" font-weight="normal" fill="#000" stroke="#000" stroke-width="0.22">0.2</text>
<line x1="733.40" y1="1501.32" x2="737.40" y2="1501.32" stroke="#555" stroke-width="0.9" />
<text transform="translate(728.10,1501.32) rotate(-90)" font-family='"Liberation Sans", sans-serif' font-size="6.6" text-anchor="middle" font-weight="normal" fill="#000" stroke="#000" stroke-width="0.22">0.2</text>
<line x1="830.77" y1="1546.90" x2="830.77" y2="1550.90" stroke="#555" stroke-width="0.9" />
<text x="830.77" y="1561.40" font-family='"Liberation Sans", sans-serif' font-size="6.6" text-anchor="middle" font-weight="normal" fill="#000" stroke="#000" stroke-width="0.22">0.4</text>
<line x1="733.40" y1="1463.34" x2="737.40" y2="1463.34" stroke="#555" stroke-width="0.9" />
<text transform="translate(728.10,1463.34) rotate(-90)" font-family='"Liberation Sans", sans-serif' font-size="6.6" text-anchor="middle" font-weight="normal" fill="#000" stroke="#000" stroke-width="0.22">0.4</text>
<line x1="873.21" y1="1546.90" x2="873.21" y2="1550.90" stroke="#555" stroke-width="0.9" />
<text x="873.21" y="1561.40" font-family='"Liberation Sans", sans-serif' font-size="6.6" text-anchor="middle" font-weight="normal" fill="#000" stroke="#000" stroke-width="0.22">0.6</text>
<line x1="733.40" y1="1425.36" x2="737.40" y2="1425.36" stroke="#555" stroke-width="0.9" />
<text transform="translate(728.10,1425.36) rotate(-90)" font-family='"Liberation Sans", sans-serif' font-size="6.6" text-anchor="middle" font-weight="normal" fill="#000" stroke="#000" stroke-width="0.22">0.6</text>
<line x1="915.65" y1="1546.90" x2="915.65" y2="1550.90" stroke="#555" stroke-width="0.9" />
<text x="915.65" y="1561.40" font-family='"Liberation Sans", sans-serif' font-size="6.6" text-anchor="middle" font-weight="normal" fill="#000" stroke="#000" stroke-width="0.22">0.8</text>
<line x1="733.40" y1="1387.38" x2="737.40" y2="1387.38" stroke="#555" stroke-width="0.9" />
<text transform="translate(728.10,1387.38) rotate(-90)" font-family='"Liberation Sans", sans-serif' font-size="6.6" text-anchor="middle" font-weight="normal" fill="#000" stroke="#000" stroke-width="0.22">0.8</text>
<line x1="958.09" y1="1546.90" x2="958.09" y2="1550.90" stroke="#555" stroke-width="0.9" />
<text x="958.09" y="1561.40" font-family='"Liberation Sans", sans-serif' font-size="6.6" text-anchor="middle" font-weight="normal" fill="#000" stroke="#000" stroke-width="0.22">1.0</text>
<line x1="733.40" y1="1349.40" x2="737.40" y2="1349.40" stroke="#555" stroke-width="0.9" />
<text transform="translate(728.10,1349.40) rotate(-90)" font-family='"Liberation Sans", sans-serif' font-size="6.6" text-anchor="middle" font-weight="normal" fill="#000" stroke="#000" stroke-width="0.22">1.0</text>
<text x="852.00" y="1577.40" font-family='"Liberation Sans", sans-serif' font-size="6.6" text-anchor="middle" font-weight="normal" fill="#000" stroke="#000" stroke-width="0.22">Nomogram−Predicted Probability of 1−Year RFS</text>
<text transform="translate(712.10,1444.30) rotate(-90)" font-family='"Liberation Sans", sans-serif' font-size="6.6" text-anchor="middle" font-weight="normal" fill="#000" stroke="#000" stroke-width="0.22">Actual 1−Year RFS</text>
<line x1="738.40" y1="1545.90" x2="965.60" y2="1342.80" stroke="#111" stroke-width="1.3" stroke-dasharray="1.3,2.1"/>
<line x1="917.00" y1="1341.80" x2="917.00" y2="1347.80" stroke="#444" stroke-width="0.8" />
<line x1="922.00" y1="1341.80" x2="922.00" y2="1345.80" stroke="#444" stroke-width="0.8" />
<line x1="934.00" y1="1341.80" x2="934.00" y2="1344.80" stroke="#444" stroke-width="0.8" />
<line x1="938.00" y1="1341.80" x2="938.00" y2="1345.80" stroke="#444" stroke-width="0.8" />
<line x1="945.00" y1="1341.80" x2="945.00" y2="1345.80" stroke="#444" stroke-width="0.8" />
<line x1="950.00" y1="1341.80" x2="950.00" y2="1345.80" stroke="#444" stroke-width="0.8" />
<line x1="953.00" y1="1341.80" x2="953.00" y2="1345.80" stroke="#444" stroke-width="0.8" />
<line x1="956.00" y1="1341.80" x2="956.00" y2="1345.80" stroke="#444" stroke-width="0.8" />
<polyline points="894.70,1420.30 920.30,1380.00 938.20,1373.40 944.70,1358.40 949.20,1353.20 951.80,1368.20 952.40,1355.50 954.50,1349.50" fill="none" stroke="#3A48F5" stroke-width="1.0" stroke-linejoin="round" />
<line x1="894.70" y1="1349.00" x2="894.70" y2="1478.20" stroke="#111" stroke-width="1.3" />
<line x1="892.50" y1="1349.00" x2="896.90" y2="1349.00" stroke="#111" stroke-width="1.3" />
<line x1="892.50" y1="1478.20" x2="896.90" y2="1478.20" stroke="#111" stroke-width="1.3" />
<circle cx="894.70" cy="1420.30" r="1.7" fill="#0010B0"/>
<line x1="920.30" y1="1363.20" x2="920.30" y2="1395.30" stroke="#111" stroke-width="1.3" />
<line x1="918.10" y1="1363.20" x2="922.50" y2="1363.20" stroke="#111" stroke-width="1.3" />
<line x1="918.10" y1="1395.30" x2="922.50" y2="1395.30" stroke="#111" stroke-width="1.3" />
<circle cx="920.30" cy="1380.00" r="1.7" fill="#0010B0"/>
<line x1="938.20" y1="1355.50" x2="938.20" y2="1388.40" stroke="#111" stroke-width="1.3" />
<line x1="936.00" y1="1355.50" x2="940.40" y2="1355.50" stroke="#111" stroke-width="1.3" />
<line x1="936.00" y1="1388.40" x2="940.40" y2="1388.40" stroke="#111" stroke-width="1.3" />
<circle cx="938.20" cy="1373.40" r="1.7" fill="#0010B0"/>
<line x1="944.70" y1="1349.00" x2="944.70" y2="1370.80" stroke="#111" stroke-width="1.3" />
<line x1="942.50" y1="1349.00" x2="946.90" y2="1349.00" stroke="#111" stroke-width="1.3" />
<line x1="942.50" y1="1370.80" x2="946.90" y2="1370.80" stroke="#111" stroke-width="1.3" />
<circle cx="944.70" cy="1358.40" r="1.7" fill="#0010B0"/>
<line x1="949.20" y1="1349.00" x2="949.20" y2="1361.60" stroke="#111" stroke-width="1.3" />
<line x1="947.00" y1="1349.00" x2="951.40" y2="1349.00" stroke="#111" stroke-width="1.3" />
<line x1="947.00" y1="1361.60" x2="951.40" y2="1361.60" stroke="#111" stroke-width="1.3" />
<circle cx="949.20" cy="1353.20" r="1.7" fill="#0010B0"/>
<line x1="951.80" y1="1349.00" x2="951.80" y2="1400.30" stroke="#111" stroke-width="1.3" />
<line x1="949.60" y1="1349.00" x2="954.00" y2="1349.00" stroke="#111" stroke-width="1.3" />
<line x1="949.60" y1="1400.30" x2="954.00" y2="1400.30" stroke="#111" stroke-width="1.3" />
<circle cx="951.80" cy="1368.20" r="1.7" fill="#0010B0"/>
<line x1="952.40" y1="1349.00" x2="952.40" y2="1363.70" stroke="#111" stroke-width="1.3" />
<line x1="950.20" y1="1349.00" x2="954.60" y2="1349.00" stroke="#111" stroke-width="1.3" />
<line x1="950.20" y1="1363.70" x2="954.60" y2="1363.70" stroke="#111" stroke-width="1.3" />
<circle cx="952.40" cy="1355.50" r="1.7" fill="#0010B0"/>
<line x1="954.50" y1="1349.00" x2="954.50" y2="1350.50" stroke="#111" stroke-width="1.3" />
<line x1="952.30" y1="1349.00" x2="956.70" y2="1349.00" stroke="#111" stroke-width="1.3" />
<line x1="952.30" y1="1350.50" x2="956.70" y2="1350.50" stroke="#111" stroke-width="1.3" />
<circle cx="954.50" cy="1349.50" r="1.7" fill="#0010B0"/>
<path d="M893.10,1415.20L896.30,1418.40M893.10,1418.40L896.30,1415.20" stroke="#4455FF" stroke-width="0.8" fill="none"/>
<rect x="1072.70" y="1340.40" width="229.2" height="205.1" fill="none" stroke="#666" stroke-width="1.1"/>
<line x1="1081.19" y1="1545.50" x2="1081.19" y2="1549.50" stroke="#555" stroke-width="0.9" />
<text x="1081.19" y="1560.00" font-family='"Liberation Sans", sans-serif' font-size="6.6" text-anchor="middle" font-weight="normal" fill="#000" stroke="#000" stroke-width="0.22">0.0</text>
<line x1="1068.70" y1="1537.90" x2="1072.70" y2="1537.90" stroke="#555" stroke-width="0.9" />
<text transform="translate(1063.40,1537.90) rotate(-90)" font-family='"Liberation Sans", sans-serif' font-size="6.6" text-anchor="middle" font-weight="normal" fill="#000" stroke="#000" stroke-width="0.22">0.0</text>
<line x1="1123.63" y1="1545.50" x2="1123.63" y2="1549.50" stroke="#555" stroke-width="0.9" />
<text x="1123.63" y="1560.00" font-family='"Liberation Sans", sans-serif' font-size="6.6" text-anchor="middle" font-weight="normal" fill="#000" stroke="#000" stroke-width="0.22">0.2</text>
<line x1="1068.70" y1="1499.92" x2="1072.70" y2="1499.92" stroke="#555" stroke-width="0.9" />
<text transform="translate(1063.40,1499.92) rotate(-90)" font-family='"Liberation Sans", sans-serif' font-size="6.6" text-anchor="middle" font-weight="normal" fill="#000" stroke="#000" stroke-width="0.22">0.2</text>
<line x1="1166.07" y1="1545.50" x2="1166.07" y2="1549.50" stroke="#555" stroke-width="0.9" />
<text x="1166.07" y="1560.00" font-family='"Liberation Sans", sans-serif' font-size="6.6" text-anchor="middle" font-weight="normal" fill="#000" stroke="#000" stroke-width="0.22">0.4</text>
<line x1="1068.70" y1="1461.94" x2="1072.70" y2="1461.94" stroke="#555" stroke-width="0.9" />
<text transform="translate(1063.40,1461.94) rotate(-90)" font-family='"Liberation Sans", sans-serif' font-size="6.6" text-anchor="middle" font-weight="normal" fill="#000" stroke="#000" stroke-width="0.22">0.4</text>
<line x1="1208.51" y1="1545.50" x2="1208.51" y2="1549.50" stroke="#555" stroke-width="0.9" />
<text x="1208.51" y="1560.00" font-family='"Liberation Sans", sans-serif' font-size="6.6" text-anchor="middle" font-weight="normal" fill="#000" stroke="#000" stroke-width="0.22">0.6</text>
<line x1="1068.70" y1="1423.96" x2="1072.70" y2="1423.96" stroke="#555" stroke-width="0.9" />
<text transform="translate(1063.40,1423.96) rotate(-90)" font-family='"Liberation Sans", sans-serif' font-size="6.6" text-anchor="middle" font-weight="normal" fill="#000" stroke="#000" stroke-width="0.22">0.6</text>
<line x1="1250.95" y1="1545.50" x2="1250.95" y2="1549.50" stroke="#555" stroke-width="0.9" />
<text x="1250.95" y="1560.00" font-family='"Liberation Sans", sans-serif' font-size="6.6" text-anchor="middle" font-weight="normal" fill="#000" stroke="#000" stroke-width="0.22">0.8</text>
<line x1="1068.70" y1="1385.98" x2="1072.70" y2="1385.98" stroke="#555" stroke-width="0.9" />
<text transform="translate(1063.40,1385.98) rotate(-90)" font-family='"Liberation Sans", sans-serif' font-size="6.6" text-anchor="middle" font-weight="normal" fill="#000" stroke="#000" stroke-width="0.22">0.8</text>
<line x1="1293.39" y1="1545.50" x2="1293.39" y2="1549.50" stroke="#555" stroke-width="0.9" />
<text x="1293.39" y="1560.00" font-family='"Liberation Sans", sans-serif' font-size="6.6" text-anchor="middle" font-weight="normal" fill="#000" stroke="#000" stroke-width="0.22">1.0</text>
<line x1="1068.70" y1="1348.00" x2="1072.70" y2="1348.00" stroke="#555" stroke-width="0.9" />
<text transform="translate(1063.40,1348.00) rotate(-90)" font-family='"Liberation Sans", sans-serif' font-size="6.6" text-anchor="middle" font-weight="normal" fill="#000" stroke="#000" stroke-width="0.22">1.0</text>
<text x="1187.30" y="1576.00" font-family='"Liberation Sans", sans-serif' font-size="6.6" text-anchor="middle" font-weight="normal" fill="#000" stroke="#000" stroke-width="0.22">Nomogram−Predicted Probability of 3−Year RFS</text>
<text transform="translate(1047.40,1442.90) rotate(-90)" font-family='"Liberation Sans", sans-serif' font-size="6.6" text-anchor="middle" font-weight="normal" fill="#000" stroke="#000" stroke-width="0.22">Actual 3−Year RFS</text>
<line x1="1073.70" y1="1544.50" x2="1300.90" y2="1341.40" stroke="#111" stroke-width="1.3" stroke-dasharray="1.3,2.1"/>
<line x1="1192.00" y1="1340.40" x2="1192.00" y2="1346.40" stroke="#444" stroke-width="0.8" />
<line x1="1203.50" y1="1340.40" x2="1203.50" y2="1344.40" stroke="#444" stroke-width="0.8" />
<line x1="1228.00" y1="1340.40" x2="1228.00" y2="1343.40" stroke="#444" stroke-width="0.8" />
<line x1="1242.00" y1="1340.40" x2="1242.00" y2="1344.40" stroke="#444" stroke-width="0.8" />
<line x1="1256.00" y1="1340.40" x2="1256.00" y2="1344.40" stroke="#444" stroke-width="0.8" />
<line x1="1268.00" y1="1340.40" x2="1268.00" y2="1344.40" stroke="#444" stroke-width="0.8" />
<line x1="1275.00" y1="1340.40" x2="1275.00" y2="1344.40" stroke="#444" stroke-width="0.8" />
<line x1="1284.00" y1="1340.40" x2="1284.00" y2="1344.40" stroke="#444" stroke-width="0.8" />
<polyline points="1154.30,1419.90 1197.10,1427.40 1239.20,1412.90 1255.60,1398.20 1267.80,1363.80 1274.80,1367.30 1276.70,1363.80 1283.20,1351.60" fill="none" stroke="#3A48F5" stroke-width="1.0" stroke-linejoin="round" />
<line x1="1154.30" y1="1348.10" x2="1154.30" y2="1477.70" stroke="#111" stroke-width="1.3" />
<line x1="1152.10" y1="1348.10" x2="1156.50" y2="1348.10" stroke="#111" stroke-width="1.3" />
<line x1="1152.10" y1="1477.70" x2="1156.50" y2="1477.70" stroke="#111" stroke-width="1.3" />
<circle cx="1154.30" cy="1419.90" r="1.7" fill="#0010B0"/>
<line x1="1197.10" y1="1399.60" x2="1197.10" y2="1449.70" stroke="#111" stroke-width="1.3" />
<line x1="1194.90" y1="1399.60" x2="1199.30" y2="1399.60" stroke="#111" stroke-width="1.3" />
<line x1="1194.90" y1="1449.70" x2="1199.30" y2="1449.70" stroke="#111" stroke-width="1.3" />
<circle cx="1197.10" cy="1427.40" r="1.7" fill="#0010B0"/>
<line x1="1239.20" y1="1380.90" x2="1239.20" y2="1438.00" stroke="#111" stroke-width="1.3" />
<line x1="1237.00" y1="1380.90" x2="1241.40" y2="1380.90" stroke="#111" stroke-width="1.3" />
<line x1="1237.00" y1="1438.00" x2="1241.40" y2="1438.00" stroke="#111" stroke-width="1.3" />
<circle cx="1239.20" cy="1412.90" r="1.7" fill="#0010B0"/>
<line x1="1255.60" y1="1363.10" x2="1255.60" y2="1426.30" stroke="#111" stroke-width="1.3" />
<line x1="1253.40" y1="1363.10" x2="1257.80" y2="1363.10" stroke="#111" stroke-width="1.3" />
<line x1="1253.40" y1="1426.30" x2="1257.80" y2="1426.30" stroke="#111" stroke-width="1.3" />
<circle cx="1255.60" cy="1398.20" r="1.7" fill="#0010B0"/>
<line x1="1267.80" y1="1348.10" x2="1267.80" y2="1379.00" stroke="#111" stroke-width="1.3" />
<line x1="1265.60" y1="1348.10" x2="1270.00" y2="1348.10" stroke="#111" stroke-width="1.3" />
<line x1="1265.60" y1="1379.00" x2="1270.00" y2="1379.00" stroke="#111" stroke-width="1.3" />
<circle cx="1267.80" cy="1363.80" r="1.7" fill="#0010B0"/>
<line x1="1274.80" y1="1348.10" x2="1274.80" y2="1399.40" stroke="#111" stroke-width="1.3" />
<line x1="1272.60" y1="1348.10" x2="1277.00" y2="1348.10" stroke="#111" stroke-width="1.3" />
<line x1="1272.60" y1="1399.40" x2="1277.00" y2="1399.40" stroke="#111" stroke-width="1.3" />
<circle cx="1274.80" cy="1367.30" r="1.7" fill="#0010B0"/>
<line x1="1276.70" y1="1348.10" x2="1276.70" y2="1377.40" stroke="#111" stroke-width="1.3" />
<line x1="1274.50" y1="1348.10" x2="1278.90" y2="1348.10" stroke="#111" stroke-width="1.3" />
<line x1="1274.50" y1="1377.40" x2="1278.90" y2="1377.40" stroke="#111" stroke-width="1.3" />
<circle cx="1276.70" cy="1363.80" r="1.7" fill="#0010B0"/>
<line x1="1283.20" y1="1348.10" x2="1283.20" y2="1356.10" stroke="#111" stroke-width="1.3" />
<line x1="1281.00" y1="1348.10" x2="1285.40" y2="1348.10" stroke="#111" stroke-width="1.3" />
<line x1="1281.00" y1="1356.10" x2="1285.40" y2="1356.10" stroke="#111" stroke-width="1.3" />
<circle cx="1283.20" cy="1351.60" r="1.7" fill="#0010B0"/>
<path d="M1152.70,1410.20L1155.90,1413.40M1152.70,1413.40L1155.90,1410.20" stroke="#4455FF" stroke-width="0.8" fill="none"/>
<path d="M1254.00,1400.10L1257.20,1403.30M1254.00,1403.30L1257.20,1400.10" stroke="#4455FF" stroke-width="0.8" fill="none"/>
<rect x="739.20" y="1608.60" width="229.2" height="205.1" fill="none" stroke="#666" stroke-width="1.1"/>
<line x1="747.69" y1="1813.70" x2="747.69" y2="1817.70" stroke="#555" stroke-width="0.9" />
<text x="747.69" y="1828.20" font-family='"Liberation Sans", sans-serif' font-size="6.6" text-anchor="middle" font-weight="normal" fill="#000" stroke="#000" stroke-width="0.22">0.0</text>
<line x1="735.20" y1="1806.10" x2="739.20" y2="1806.10" stroke="#555" stroke-width="0.9" />
<text transform="translate(729.90,1806.10) rotate(-90)" font-family='"Liberation Sans", sans-serif' font-size="6.6" text-anchor="middle" font-weight="normal" fill="#000" stroke="#000" stroke-width="0.22">0.0</text>
<line x1="790.13" y1="1813.70" x2="790.13" y2="1817.70" stroke="#555" stroke-width="0.9" />
<text x="790.13" y="1828.20" font-family='"Liberation Sans", sans-serif' font-size="6.6" text-anchor="middle" font-weight="normal" fill="#000" stroke="#000" stroke-width="0.22">0.2</text>
<line x1="735.20" y1="1768.12" x2="739.20" y2="1768.12" stroke="#555" stroke-width="0.9" />
<text transform="translate(729.90,1768.12) rotate(-90)" font-family='"Liberation Sans", sans-serif' font-size="6.6" text-anchor="middle" font-weight="normal" fill="#000" stroke="#000" stroke-width="0.22">0.2</text>
<line x1="832.57" y1="1813.70" x2="832.57" y2="1817.70" stroke="#555" stroke-width="0.9" />
<text x="832.57" y="1828.20" font-family='"Liberation Sans", sans-serif' font-size="6.6" text-anchor="middle" font-weight="normal" fill="#000" stroke="#000" stroke-width="0.22">0.4</text>
<line x1="735.20" y1="1730.14" x2="739.20" y2="1730.14" stroke="#555" stroke-width="0.9" />
<text transform="translate(729.90,1730.14) rotate(-90)" font-family='"Liberation Sans", sans-serif' font-size="6.6" text-anchor="middle" font-weight="normal" fill="#000" stroke="#000" stroke-width="0.22">0.4</text>
<line x1="875.01" y1="1813.70" x2="875.01" y2="1817.70" stroke="#555" stroke-width="0.9" />
<text x="875.01" y="1828.20" font-family='"Liberation Sans", sans-serif' font-size="6.6" text-anchor="middle" font-weight="normal" fill="#000" stroke="#000" stroke-width="0.22">0.6</text>
<line x1="735.20" y1="1692.16" x2="739.20" y2="1692.16" stroke="#555" stroke-width="0.9" />
<text transform="translate(729.90,1692.16) rotate(-90)" font-family='"Liberation Sans", sans-serif' font-size="6.6" text-anchor="middle" font-weight="normal" fill="#000" stroke="#000" stroke-width="0.22">0.6</text>
<line x1="917.45" y1="1813.70" x2="917.45" y2="1817.70" stroke="#555" stroke-width="0.9" />
<text x="917.45" y="1828.20" font-family='"Liberation Sans", sans-serif' font-size="6.6" text-anchor="middle" font-weight="normal" fill="#000" stroke="#000" stroke-width="0.22">0.8</text>
<line x1="735.20" y1="1654.18" x2="739.20" y2="1654.18" stroke="#555" stroke-width="0.9" />
<text transform="translate(729.90,1654.18) rotate(-90)" font-family='"Liberation Sans", sans-serif' font-size="6.6" text-anchor="middle" font-weight="normal" fill="#000" stroke="#000" stroke-width="0.22">0.8</text>
<line x1="959.89" y1="1813.70" x2="959.89" y2="1817.70" stroke="#555" stroke-width="0.9" />
<text x="959.89" y="1828.20" font-family='"Liberation Sans", sans-serif' font-size="6.6" text-anchor="middle" font-weight="normal" fill="#000" stroke="#000" stroke-width="0.22">1.0</text>
<line x1="735.20" y1="1616.20" x2="739.20" y2="1616.20" stroke="#555" stroke-width="0.9" />
<text transform="translate(729.90,1616.20) rotate(-90)" font-family='"Liberation Sans", sans-serif' font-size="6.6" text-anchor="middle" font-weight="normal" fill="#000" stroke="#000" stroke-width="0.22">1.0</text>
<text x="853.80" y="1844.20" font-family='"Liberation Sans", sans-serif' font-size="6.6" text-anchor="middle" font-weight="normal" fill="#000" stroke="#000" stroke-width="0.22">Nomogram−Predicted Probability of 5−Year RFS</text>
<text transform="translate(713.90,1711.10) rotate(-90)" font-family='"Liberation Sans", sans-serif' font-size="6.6" text-anchor="middle" font-weight="normal" fill="#000" stroke="#000" stroke-width="0.22">Actual 5−Year RFS</text>
<line x1="740.20" y1="1812.70" x2="967.40" y2="1609.60" stroke="#111" stroke-width="1.3" stroke-dasharray="1.3,2.1"/>
<line x1="819.50" y1="1608.60" x2="819.50" y2="1614.60" stroke="#444" stroke-width="0.8" />
<line x1="832.50" y1="1608.60" x2="832.50" y2="1612.60" stroke="#444" stroke-width="0.8" />
<line x1="865.00" y1="1608.60" x2="865.00" y2="1611.60" stroke="#444" stroke-width="0.8" />
<line x1="884.00" y1="1608.60" x2="884.00" y2="1612.60" stroke="#444" stroke-width="0.8" />
<line x1="901.00" y1="1608.60" x2="901.00" y2="1612.60" stroke="#444" stroke-width="0.8" />
<line x1="920.00" y1="1608.60" x2="920.00" y2="1612.60" stroke="#444" stroke-width="0.8" />
<line x1="932.00" y1="1608.60" x2="932.00" y2="1612.60" stroke="#444" stroke-width="0.8" />
<line x1="942.00" y1="1608.60" x2="942.00" y2="1612.60" stroke="#444" stroke-width="0.8" />
<polyline points="826.40,1723.70 878.10,1714.20 901.40,1693.80 919.30,1661.40 932.90,1631.20 943.30,1619.50" fill="none" stroke="#3A48F5" stroke-width="1.0" stroke-linejoin="round" />
<line x1="826.40" y1="1692.00" x2="826.40" y2="1746.80" stroke="#111" stroke-width="1.3" />
<line x1="824.20" y1="1692.00" x2="828.60" y2="1692.00" stroke="#111" stroke-width="1.3" />
<line x1="824.20" y1="1746.80" x2="828.60" y2="1746.80" stroke="#111" stroke-width="1.3" />
<circle cx="826.40" cy="1723.70" r="1.7" fill="#0010B0"/>
<line x1="878.10" y1="1655.70" x2="878.10" y2="1750.40" stroke="#111" stroke-width="1.3" />
<line x1="875.90" y1="1655.70" x2="880.30" y2="1655.70" stroke="#111" stroke-width="1.3" />
<line x1="875.90" y1="1750.40" x2="880.30" y2="1750.40" stroke="#111" stroke-width="1.3" />
<circle cx="878.10" cy="1714.20" r="1.7" fill="#0010B0"/>
<line x1="901.40" y1="1641.00" x2="901.40" y2="1729.40" stroke="#111" stroke-width="1.3" />
<line x1="899.20" y1="1641.00" x2="903.60" y2="1641.00" stroke="#111" stroke-width="1.3" />
<line x1="899.20" y1="1729.40" x2="903.60" y2="1729.40" stroke="#111" stroke-width="1.3" />
<circle cx="901.40" cy="1693.80" r="1.7" fill="#0010B0"/>
<line x1="919.30" y1="1621.70" x2="919.30" y2="1692.00" stroke="#111" stroke-width="1.3" />
<line x1="917.10" y1="1621.70" x2="921.50" y2="1621.70" stroke="#111" stroke-width="1.3" />
<line x1="917.10" y1="1692.00" x2="921.50" y2="1692.00" stroke="#111" stroke-width="1.3" />
<circle cx="919.30" cy="1661.40" r="1.7" fill="#0010B0"/>
<line x1="932.90" y1="1616.10" x2="932.90" y2="1645.10" stroke="#111" stroke-width="1.3" />
<line x1="930.70" y1="1616.10" x2="935.10" y2="1616.10" stroke="#111" stroke-width="1.3" />
<line x1="930.70" y1="1645.10" x2="935.10" y2="1645.10" stroke="#111" stroke-width="1.3" />
<circle cx="932.90" cy="1631.20" r="1.7" fill="#0010B0"/>
<line x1="943.30" y1="1616.10" x2="943.30" y2="1624.00" stroke="#111" stroke-width="1.3" />
<line x1="941.10" y1="1616.10" x2="945.50" y2="1616.10" stroke="#111" stroke-width="1.3" />
<line x1="941.10" y1="1624.00" x2="945.50" y2="1624.00" stroke="#111" stroke-width="1.3" />
<circle cx="943.30" cy="1619.50" r="1.7" fill="#0010B0"/>
<path d="M876.50,1709.60L879.70,1712.80M876.50,1712.80L879.70,1709.60" stroke="#4455FF" stroke-width="0.8" fill="none"/>
<path d="M899.80,1694.90L903.00,1698.10M899.80,1698.10L903.00,1694.90" stroke="#4455FF" stroke-width="0.8" fill="none"/>
<path d="M917.70,1663.20L920.90,1666.40M917.70,1666.40L920.90,1663.20" stroke="#4455FF" stroke-width="0.8" fill="none"/>
<path d="M931.30,1633.70L934.50,1636.90M931.30,1636.90L934.50,1633.70" stroke="#4455FF" stroke-width="0.8" fill="none"/>
<rect x="1048.90" y="1003.30" width="312.2" height="207.3" fill="none" stroke="#333" stroke-width="1.3"/>
<line x1="1060.50" y1="1210.60" x2="1060.50" y2="1216.10" stroke="#333" stroke-width="1.3" />
<text x="1060.50" y="1234.50" font-family='"Liberation Sans", sans-serif' font-size="11" text-anchor="middle" font-weight="normal" fill="#111" >0.0</text>
<line x1="1042.90" y1="1203.10" x2="1048.90" y2="1203.10" stroke="#333" stroke-width="1.3" />
<text transform="translate(1033.00,1203.10) rotate(-90)" font-family='"Liberation Sans", sans-serif' font-size="11" text-anchor="middle" font-weight="normal" fill="#111" >0.0</text>
<line x1="1118.36" y1="1210.60" x2="1118.36" y2="1216.10" stroke="#333" stroke-width="1.3" />
<text x="1118.36" y="1234.50" font-family='"Liberation Sans", sans-serif' font-size="11" text-anchor="middle" font-weight="normal" fill="#111" >0.2</text>
<line x1="1042.90" y1="1164.66" x2="1048.90" y2="1164.66" stroke="#333" stroke-width="1.3" />
<text transform="translate(1033.00,1164.66) rotate(-90)" font-family='"Liberation Sans", sans-serif' font-size="11" text-anchor="middle" font-weight="normal" fill="#111" >0.2</text>
<line x1="1176.22" y1="1210.60" x2="1176.22" y2="1216.10" stroke="#333" stroke-width="1.3" />
<text x="1176.22" y="1234.50" font-family='"Liberation Sans", sans-serif' font-size="11" text-anchor="middle" font-weight="normal" fill="#111" >0.4</text>
<line x1="1042.90" y1="1126.22" x2="1048.90" y2="1126.22" stroke="#333" stroke-width="1.3" />
<text transform="translate(1033.00,1126.22) rotate(-90)" font-family='"Liberation Sans", sans-serif' font-size="11" text-anchor="middle" font-weight="normal" fill="#111" >0.4</text>
<line x1="1234.08" y1="1210.60" x2="1234.08" y2="1216.10" stroke="#333" stroke-width="1.3" />
<text x="1234.08" y="1234.50" font-family='"Liberation Sans", sans-serif' font-size="11" text-anchor="middle" font-weight="normal" fill="#111" >0.6</text>
<line x1="1042.90" y1="1087.78" x2="1048.90" y2="1087.78" stroke="#333" stroke-width="1.3" />
<text transform="translate(1033.00,1087.78) rotate(-90)" font-family='"Liberation Sans", sans-serif' font-size="11" text-anchor="middle" font-weight="normal" fill="#111" >0.6</text>
<line x1="1291.94" y1="1210.60" x2="1291.94" y2="1216.10" stroke="#333" stroke-width="1.3" />
<text x="1291.94" y="1234.50" font-family='"Liberation Sans", sans-serif' font-size="11" text-anchor="middle" font-weight="normal" fill="#111" >0.8</text>
<line x1="1042.90" y1="1049.34" x2="1048.90" y2="1049.34" stroke="#333" stroke-width="1.3" />
<text transform="translate(1033.00,1049.34) rotate(-90)" font-family='"Liberation Sans", sans-serif' font-size="11" text-anchor="middle" font-weight="normal" fill="#111" >0.8</text>
<line x1="1349.80" y1="1210.60" x2="1349.80" y2="1216.10" stroke="#333" stroke-width="1.3" />
<text x="1349.80" y="1234.50" font-family='"Liberation Sans", sans-serif' font-size="11" text-anchor="middle" font-weight="normal" fill="#111" >1.0</text>
<line x1="1042.90" y1="1010.90" x2="1048.90" y2="1010.90" stroke="#333" stroke-width="1.3" />
<text transform="translate(1033.00,1010.90) rotate(-90)" font-family='"Liberation Sans", sans-serif' font-size="11" text-anchor="middle" font-weight="normal" fill="#111" >1.0</text>
<text x="1204.70" y="1260.70" font-family='"Liberation Serif", serif' font-size="12.6" text-anchor="middle" font-weight="normal" fill="#111" >1- Specificity</text>
<text transform="translate(1006.10,1109.30) rotate(-90)" font-family='"Liberation Serif", serif' font-size="12.6" text-anchor="middle" font-weight="normal" fill="#111" >Sensitivity</text>
<line x1="1048.90" y1="1210.60" x2="1361.10" y2="1003.30" stroke="#222" stroke-width="1.2" stroke-dasharray="3,2.6"/>
<polyline points="1060.10,1202.90 1060.10,1186.40 1065.50,1186.40 1085.20,1169.60 1104.90,1138.60 1109.30,1138.60 1129.10,1122.80 1132.40,1089.90 1141.50,1058.50 1154.60,1058.50 1185.40,1042.40 1219.00,1042.40 1228.50,1026.30 1245.00,1019.00 1263.60,1010.90 1349.80,1010.90" fill="none" stroke="#E32A2A" stroke-width="1.4" stroke-linejoin="round" />
<polyline points="1060.10,1202.90 1080.10,1157.90 1103.50,1125.00 1114.90,1125.00 1129.80,1102.30 1130.50,1086.30 1134.20,1076.80 1138.60,1076.80 1146.60,1070.90 1174.40,1025.60 1220.40,1025.60 1224.80,1021.20 1245.00,1019.00 1252.50,1018.70 1299.50,1015.90 1349.80,1010.90" fill="none" stroke="#6CF03C" stroke-width="1.4" stroke-linejoin="round" />
<polyline points="1060.10,1202.90 1072.50,1148.40 1096.90,1116.70 1108.20,1116.70 1120.70,1100.90 1120.70,1077.50 1144.40,1040.90 1145.10,1036.80 1168.50,1036.80 1192.70,1021.60 1193.40,1018.30 1245.00,1015.10 1288.40,1014.50 1349.80,1010.90" fill="none" stroke="#2E3CF5" stroke-width="1.4" stroke-linejoin="round" />
<line x1="1194.70" y1="1168.00" x2="1217.10" y2="1168.00" stroke="#E32A2A" stroke-width="1.9" />
<text x="1220.90" y="1172.40" font-family='"Liberation Serif", serif' font-size="14.6" text-anchor="start" font-weight="normal" fill="#111" >AUC at 1 years: 0.744</text>
<line x1="1194.70" y1="1181.70" x2="1217.10" y2="1181.70" stroke="#6CF03C" stroke-width="1.9" />
<text x="1220.90" y="1186.15" font-family='"Liberation Serif", serif' font-size="14.6" text-anchor="start" font-weight="normal" fill="#111" >AUC at 3 years: 0.772</text>
<line x1="1194.70" y1="1195.40" x2="1217.10" y2="1195.40" stroke="#2E3CF5" stroke-width="1.9" />
<text x="1220.90" y="1199.90" font-family='"Liberation Serif", serif' font-size="14.6" text-anchor="start" font-weight="normal" fill="#111" >AUC at 5 years: 0.818</text>
<rect x="346.40" y="1608.60" width="312.2" height="207.3" fill="none" stroke="#333" stroke-width="1.3"/>
<line x1="358.00" y1="1815.90" x2="358.00" y2="1821.40" stroke="#333" stroke-width="1.3" />
<text x="358.00" y="1839.80" font-family='"Liberation Sans", sans-serif' font-size="11" text-anchor="middle" font-weight="normal" fill="#111" >0.0</text>
<line x1="340.40" y1="1808.40" x2="346.40" y2="1808.40" stroke="#333" stroke-width="1.3" />
<text transform="translate(330.50,1808.40) rotate(-90)" font-family='"Liberation Sans", sans-serif' font-size="11" text-anchor="middle" font-weight="normal" fill="#111" >0.0</text>
<line x1="415.86" y1="1815.90" x2="415.86" y2="1821.40" stroke="#333" stroke-width="1.3" />
<text x="415.86" y="1839.80" font-family='"Liberation Sans", sans-serif' font-size="11" text-anchor="middle" font-weight="normal" fill="#111" >0.2</text>
<line x1="340.40" y1="1769.96" x2="346.40" y2="1769.96" stroke="#333" stroke-width="1.3" />
<text transform="translate(330.50,1769.96) rotate(-90)" font-family='"Liberation Sans", sans-serif' font-size="11" text-anchor="middle" font-weight="normal" fill="#111" >0.2</text>
<line x1="473.72" y1="1815.90" x2="473.72" y2="1821.40" stroke="#333" stroke-width="1.3" />
<text x="473.72" y="1839.80" font-family='"Liberation Sans", sans-serif' font-size="11" text-anchor="middle" font-weight="normal" fill="#111" >0.4</text>
<line x1="340.40" y1="1731.52" x2="346.40" y2="1731.52" stroke="#333" stroke-width="1.3" />
<text transform="translate(330.50,1731.52) rotate(-90)" font-family='"Liberation Sans", sans-serif' font-size="11" text-anchor="middle" font-weight="normal" fill="#111" >0.4</text>
<line x1="531.58" y1="1815.90" x2="531.58" y2="1821.40" stroke="#333" stroke-width="1.3" />
<text x="531.58" y="1839.80" font-family='"Liberation Sans", sans-serif' font-size="11" text-anchor="middle" font-weight="normal" fill="#111" >0.6</text>
<line x1="340.40" y1="1693.08" x2="346.40" y2="1693.08" stroke="#333" stroke-width="1.3" />
<text transform="translate(330.50,1693.08) rotate(-90)" font-family='"Liberation Sans", sans-serif' font-size="11" text-anchor="middle" font-weight="normal" fill="#111" >0.6</text>
<line x1="589.44" y1="1815.90" x2="589.44" y2="1821.40" stroke="#333" stroke-width="1.3" />
<text x="589.44" y="1839.80" font-family='"Liberation Sans", sans-serif' font-size="11" text-anchor="middle" font-weight="normal" fill="#111" >0.8</text>
<line x1="340.40" y1="1654.64" x2="346.40" y2="1654.64" stroke="#333" stroke-width="1.3" />
<text transform="translate(330.50,1654.64) rotate(-90)" font-family='"Liberation Sans", sans-serif' font-size="11" text-anchor="middle" font-weight="normal" fill="#111" >0.8</text>
<line x1="647.30" y1="1815.90" x2="647.30" y2="1821.40" stroke="#333" stroke-width="1.3" />
<text x="647.30" y="1839.80" font-family='"Liberation Sans", sans-serif' font-size="11" text-anchor="middle" font-weight="normal" fill="#111" >1.0</text>
<line x1="340.40" y1="1616.20" x2="346.40" y2="1616.20" stroke="#333" stroke-width="1.3" />
<text transform="translate(330.50,1616.20) rotate(-90)" font-family='"Liberation Sans", sans-serif' font-size="11" text-anchor="middle" font-weight="normal" fill="#111" >1.0</text>
<text x="502.20" y="1866.00" font-family='"Liberation Serif", serif' font-size="12.6" text-anchor="middle" font-weight="normal" fill="#111" >1- Specificity</text>
<text transform="translate(303.60,1714.60) rotate(-90)" font-family='"Liberation Serif", serif' font-size="12.6" text-anchor="middle" font-weight="normal" fill="#111" >Sensitivity</text>
<line x1="346.40" y1="1815.90" x2="658.60" y2="1608.60" stroke="#222" stroke-width="1.2" stroke-dasharray="3,2.6"/>
<polyline points="357.20,1808.60 359.40,1794.20 392.80,1694.20 415.00,1680.80 431.70,1680.80 446.90,1655.30 478.90,1655.30 483.10,1642.20 506.70,1642.20 528.90,1629.40 583.60,1629.40 587.80,1616.40 646.90,1616.40" fill="none" stroke="#E32A2A" stroke-width="1.4" stroke-linejoin="round" />
<polyline points="357.20,1808.60 416.40,1708.10 420.60,1708.10 424.70,1698.30 428.90,1698.30 441.40,1671.90 445.60,1667.00 478.90,1667.00 483.10,1661.70 517.20,1661.70 529.40,1639.40 574.70,1621.90 578.90,1616.40 646.90,1616.40" fill="none" stroke="#6CF03C" stroke-width="1.4" stroke-linejoin="round" />
<polyline points="357.20,1808.60 385.80,1735.00 413.60,1718.30 423.30,1718.30 431.70,1711.40 440.80,1680.30 441.40,1670.00 460.00,1670.00 470.60,1657.20 478.90,1654.70 496.90,1654.70 516.40,1630.80 528.90,1627.50 571.90,1620.00 572.50,1616.40 646.90,1616.40" fill="none" stroke="#2E3CF5" stroke-width="1.4" stroke-linejoin="round" />
<line x1="492.20" y1="1773.80" x2="514.60" y2="1773.80" stroke="#E32A2A" stroke-width="1.9" />
<text x="517.30" y="1776.80" font-family='"Liberation Serif", serif' font-size="14.6" text-anchor="start" font-weight="normal" fill="#111" >AUC at 1 years: 0.797</text>
<line x1="492.20" y1="1787.50" x2="514.60" y2="1787.50" stroke="#6CF03C" stroke-width="1.9" />
<text x="517.30" y="1790.55" font-family='"Liberation Serif", serif' font-size="14.6" text-anchor="start" font-weight="normal" fill="#111" >AUC at 3 years: 0.729</text>
<line x1="492.20" y1="1801.20" x2="514.60" y2="1801.20" stroke="#2E3CF5" stroke-width="1.9" />
<text x="517.30" y="1804.30" font-family='"Liberation Serif", serif' font-size="14.6" text-anchor="start" font-weight="normal" fill="#111" >AUC at 5 years: 0.755</text>
<rect x="1048.90" y="1608.50" width="312.2" height="207.3" fill="none" stroke="#333" stroke-width="1.3"/>
<line x1="1060.50" y1="1815.80" x2="1060.50" y2="1821.30" stroke="#333" stroke-width="1.3" />
<text x="1060.50" y="1839.70" font-family='"Liberation Sans", sans-serif' font-size="11" text-anchor="middle" font-weight="normal" fill="#111" >0.0</text>
<line x1="1042.90" y1="1808.30" x2="1048.90" y2="1808.30" stroke="#333" stroke-width="1.3" />
<text transform="translate(1033.00,1808.30) rotate(-90)" font-family='"Liberation Sans", sans-serif' font-size="11" text-anchor="middle" font-weight="normal" fill="#111" >0.0</text>
<line x1="1118.36" y1="1815.80" x2="1118.36" y2="1821.30" stroke="#333" stroke-width="1.3" />
<text x="1118.36" y="1839.70" font-family='"Liberation Sans", sans-serif' font-size="11" text-anchor="middle" font-weight="normal" fill="#111" >0.2</text>
<line x1="1042.90" y1="1769.86" x2="1048.90" y2="1769.86" stroke="#333" stroke-width="1.3" />
<text transform="translate(1033.00,1769.86) rotate(-90)" font-family='"Liberation Sans", sans-serif' font-size="11" text-anchor="middle" font-weight="normal" fill="#111" >0.2</text>
<line x1="1176.22" y1="1815.80" x2="1176.22" y2="1821.30" stroke="#333" stroke-width="1.3" />
<text x="1176.22" y="1839.70" font-family='"Liberation Sans", sans-serif' font-size="11" text-anchor="middle" font-weight="normal" fill="#111" >0.4</text>
<line x1="1042.90" y1="1731.42" x2="1048.90" y2="1731.42" stroke="#333" stroke-width="1.3" />
<text transform="translate(1033.00,1731.42) rotate(-90)" font-family='"Liberation Sans", sans-serif' font-size="11" text-anchor="middle" font-weight="normal" fill="#111" >0.4</text>
<line x1="1234.08" y1="1815.80" x2="1234.08" y2="1821.30" stroke="#333" stroke-width="1.3" />
<text x="1234.08" y="1839.70" font-family='"Liberation Sans", sans-serif' font-size="11" text-anchor="middle" font-weight="normal" fill="#111" >0.6</text>
<line x1="1042.90" y1="1692.98" x2="1048.90" y2="1692.98" stroke="#333" stroke-width="1.3" />
<text transform="translate(1033.00,1692.98) rotate(-90)" font-family='"Liberation Sans", sans-serif' font-size="11" text-anchor="middle" font-weight="normal" fill="#111" >0.6</text>
<line x1="1291.94" y1="1815.80" x2="1291.94" y2="1821.30" stroke="#333" stroke-width="1.3" />
<text x="1291.94" y="1839.70" font-family='"Liberation Sans", sans-serif' font-size="11" text-anchor="middle" font-weight="normal" fill="#111" >0.8</text>
<line x1="1042.90" y1="1654.54" x2="1048.90" y2="1654.54" stroke="#333" stroke-width="1.3" />
<text transform="translate(1033.00,1654.54) rotate(-90)" font-family='"Liberation Sans", sans-serif' font-size="11" text-anchor="middle" font-weight="normal" fill="#111" >0.8</text>
<line x1="1349.80" y1="1815.80" x2="1349.80" y2="1821.30" stroke="#333" stroke-width="1.3" />
<text x="1349.80" y="1839.70" font-family='"Liberation Sans", sans-serif' font-size="11" text-anchor="middle" font-weight="normal" fill="#111" >1.0</text>
<line x1="1042.90" y1="1616.10" x2="1048.90" y2="1616.10" stroke="#333" stroke-width="1.3" />
<text transform="translate(1033.00,1616.10) rotate(-90)" font-family='"Liberation Sans", sans-serif' font-size="11" text-anchor="middle" font-weight="normal" fill="#111" >1.0</text>
<text x="1204.70" y="1865.90" font-family='"Liberation Serif", serif' font-size="12.6" text-anchor="middle" font-weight="normal" fill="#111" >1- Specificity</text>
<text transform="translate(1006.10,1714.50) rotate(-90)" font-family='"Liberation Serif", serif' font-size="12.6" text-anchor="middle" font-weight="normal" fill="#111" >Sensitivity</text>
<line x1="1048.90" y1="1815.80" x2="1361.10" y2="1608.50" stroke="#222" stroke-width="1.2" stroke-dasharray="3,2.6"/>
<polyline points="1060.50,1808.30 1060.50,1801.40 1078.40,1755.80 1089.50,1730.90 1111.60,1709.40 1115.70,1709.40 1128.20,1702.70 1130.90,1696.40 1135.10,1682.60 1146.10,1658.50 1157.20,1658.50 1183.40,1651.30 1187.60,1644.20 1204.10,1644.20 1226.30,1637.00 1233.20,1630.10 1273.20,1623.20 1280.10,1616.30 1349.80,1616.30" fill="none" stroke="#E32A2A" stroke-width="1.4" stroke-linejoin="round" />
<polyline points="1060.50,1808.30 1089.50,1748.10 1110.20,1719.30 1117.10,1719.30 1130.90,1698.60 1140.60,1677.90 1153.00,1670.10 1166.80,1651.30 1182.00,1643.90 1204.10,1643.90 1227.60,1631.40 1274.60,1622.60 1288.40,1617.60 1349.80,1616.30" fill="none" stroke="#6CF03C" stroke-width="1.4" stroke-linejoin="round" />
<polyline points="1060.50,1808.30 1081.20,1744.70 1107.40,1721.30 1118.50,1721.30 1128.20,1709.40 1133.70,1678.40 1144.70,1676.20 1159.90,1651.30 1170.20,1648.00 1181.70,1648.00 1208.30,1626.50 1266.30,1619.80 1270.50,1617.60 1349.80,1616.30" fill="none" stroke="#2E3CF5" stroke-width="1.4" stroke-linejoin="round" />
<line x1="1194.70" y1="1772.40" x2="1217.10" y2="1772.40" stroke="#E32A2A" stroke-width="1.9" />
<text x="1218.70" y="1776.50" font-family='"Liberation Serif", serif' font-size="14.6" text-anchor="start" font-weight="normal" fill="#111" >AUC at 1 years: 0.774</text>
<line x1="1194.70" y1="1786.10" x2="1217.10" y2="1786.10" stroke="#6CF03C" stroke-width="1.9" />
<text x="1218.70" y="1790.25" font-family='"Liberation Serif", serif' font-size="14.6" text-anchor="start" font-weight="normal" fill="#111" >AUC at 3 years: 0.754</text>
<line x1="1194.70" y1="1799.80" x2="1217.10" y2="1799.80" stroke="#2E3CF5" stroke-width="1.9" />
<text x="1218.70" y="1804.00" font-family='"Liberation Serif", serif' font-size="14.6" text-anchor="start" font-weight="normal" fill="#111" >AUC at 5 years: 0.781</text>
</svg></body></html>
